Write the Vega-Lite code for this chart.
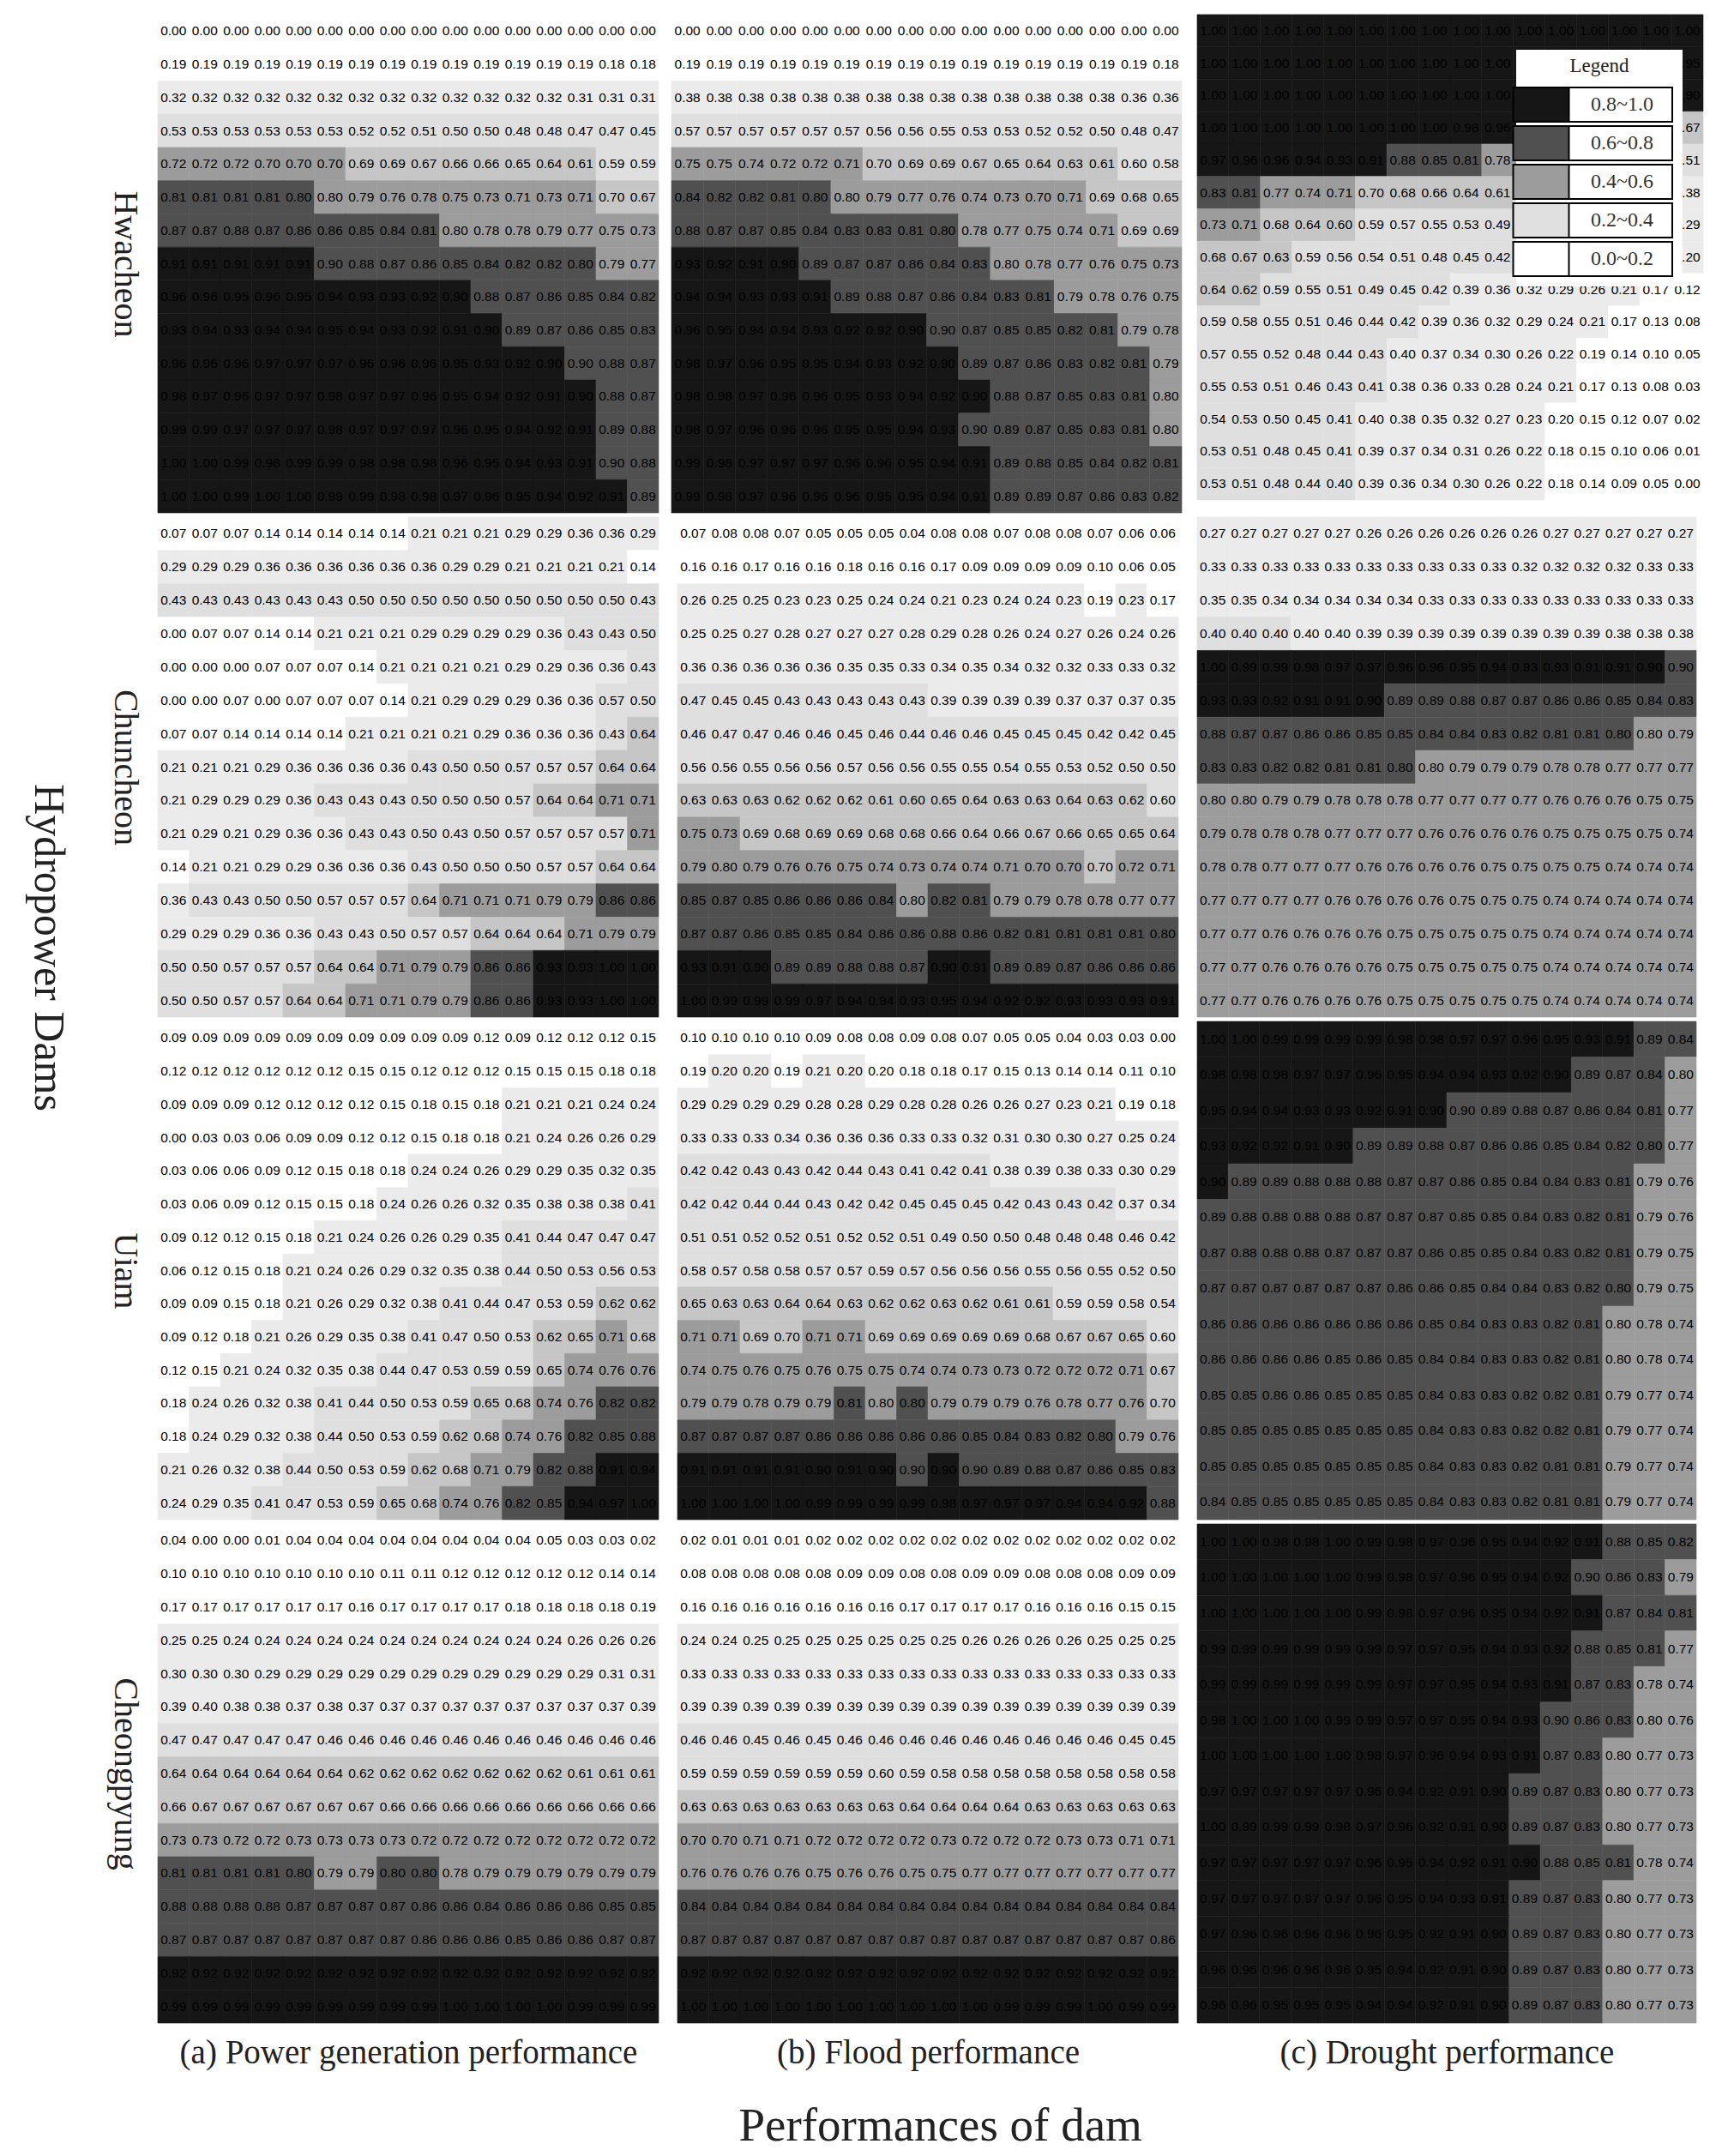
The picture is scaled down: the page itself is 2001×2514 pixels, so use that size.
{"$schema":"https://vega.github.io/schema/vega-lite/v6.json","background":"white","padding":{"left":30,"top":13,"right":0,"bottom":0},"config":{"view":{"stroke":null},"scale":{"bandPaddingInner":0,"bandPaddingOuter":0},"rect":{"strokeWidth":0.6},"text":{"font":"Liberation Sans","fontSize":15.5,"color":"#000"},"axis":{"labels":false,"ticks":false,"domain":false,"grid":false,"titleFont":"Liberation Serif","titleFontWeight":"normal","titleFontSize":39,"titleColor":"#222"},"axisY":{"titleAngle":90,"titleBaseline":"top","titlePadding":19,"titleFontSize":40},"axisX":{"titlePadding":15}},"title":{"text":"Hydropower Dams","orient":"left","anchor":"middle","angle":90,"font":"Liberation Serif","fontSize":50,"fontWeight":"normal","color":"#222","offset":94,"dy":-100,"dx":-155},"datasets":{"legendRows":[{"b":"0.8~1.0"},{"b":"0.6~0.8"},{"b":"0.4~0.6"},{"b":"0.2~0.4"},{"b":"0.0~0.2"}],
"a0":[{"r":0,"v":0},{"r":0,"v":0},{"r":0,"v":0},{"r":0,"v":0},{"r":0,"v":0},{"r":0,"v":0},{"r":0,"v":0},{"r":0,"v":0},{"r":0,"v":0},{"r":0,"v":0},{"r":0,"v":0},{"r":0,"v":0},{"r":0,"v":0},{"r":0,"v":0},{"r":0,"v":0},{"r":0,"v":0},
{"r":1,"v":0.19},{"r":1,"v":0.19},{"r":1,"v":0.19},{"r":1,"v":0.19},{"r":1,"v":0.19},{"r":1,"v":0.19},{"r":1,"v":0.19},{"r":1,"v":0.19},{"r":1,"v":0.19},{"r":1,"v":0.19},{"r":1,"v":0.19},{"r":1,"v":0.19},{"r":1,"v":0.19},{"r":1,"v":0.19},{"r":1,"v":0.18},{"r":1,"v":0.18},
{"r":2,"v":0.32},{"r":2,"v":0.32},{"r":2,"v":0.32},{"r":2,"v":0.32},{"r":2,"v":0.32},{"r":2,"v":0.32},{"r":2,"v":0.32},{"r":2,"v":0.32},{"r":2,"v":0.32},{"r":2,"v":0.32},{"r":2,"v":0.32},{"r":2,"v":0.32},{"r":2,"v":0.32},{"r":2,"v":0.31},{"r":2,"v":0.31},{"r":2,"v":0.31},
{"r":3,"v":0.53},{"r":3,"v":0.53},{"r":3,"v":0.53},{"r":3,"v":0.53},{"r":3,"v":0.53},{"r":3,"v":0.53},{"r":3,"v":0.52},{"r":3,"v":0.52},{"r":3,"v":0.51},{"r":3,"v":0.5},{"r":3,"v":0.5},{"r":3,"v":0.48},{"r":3,"v":0.48},{"r":3,"v":0.47},{"r":3,"v":0.47},{"r":3,"v":0.45},
{"r":4,"v":0.72},{"r":4,"v":0.72},{"r":4,"v":0.72},{"r":4,"v":0.7},{"r":4,"v":0.7},{"r":4,"v":0.7},{"r":4,"v":0.69},{"r":4,"v":0.69},{"r":4,"v":0.67},{"r":4,"v":0.66},{"r":4,"v":0.66},{"r":4,"v":0.65},{"r":4,"v":0.64},{"r":4,"v":0.61},{"r":4,"v":0.59},{"r":4,"v":0.59},
{"r":5,"v":0.81},{"r":5,"v":0.81},{"r":5,"v":0.81},{"r":5,"v":0.81},{"r":5,"v":0.8},{"r":5,"v":0.796},{"r":5,"v":0.79},{"r":5,"v":0.76},{"r":5,"v":0.78},{"r":5,"v":0.75},{"r":5,"v":0.73},{"r":5,"v":0.71},{"r":5,"v":0.73},{"r":5,"v":0.71},{"r":5,"v":0.696},{"r":5,"v":0.67},
{"r":6,"v":0.87},{"r":6,"v":0.87},{"r":6,"v":0.88},{"r":6,"v":0.87},{"r":6,"v":0.86},{"r":6,"v":0.86},{"r":6,"v":0.85},{"r":6,"v":0.84},{"r":6,"v":0.81},{"r":6,"v":0.796},{"r":6,"v":0.78},{"r":6,"v":0.78},{"r":6,"v":0.79},{"r":6,"v":0.77},{"r":6,"v":0.75},{"r":6,"v":0.73},
{"r":7,"v":0.91},{"r":7,"v":0.91},{"r":7,"v":0.91},{"r":7,"v":0.91},{"r":7,"v":0.91},{"r":7,"v":0.896},{"r":7,"v":0.88},{"r":7,"v":0.87},{"r":7,"v":0.86},{"r":7,"v":0.85},{"r":7,"v":0.84},{"r":7,"v":0.82},{"r":7,"v":0.82},{"r":7,"v":0.8},{"r":7,"v":0.79},{"r":7,"v":0.77},
{"r":8,"v":0.96},{"r":8,"v":0.96},{"r":8,"v":0.95},{"r":8,"v":0.96},{"r":8,"v":0.95},{"r":8,"v":0.94},{"r":8,"v":0.93},{"r":8,"v":0.93},{"r":8,"v":0.92},{"r":8,"v":0.9},{"r":8,"v":0.88},{"r":8,"v":0.87},{"r":8,"v":0.86},{"r":8,"v":0.85},{"r":8,"v":0.84},{"r":8,"v":0.82},
{"r":9,"v":0.93},{"r":9,"v":0.94},{"r":9,"v":0.93},{"r":9,"v":0.94},{"r":9,"v":0.94},{"r":9,"v":0.95},{"r":9,"v":0.94},{"r":9,"v":0.93},{"r":9,"v":0.92},{"r":9,"v":0.91},{"r":9,"v":0.9},{"r":9,"v":0.89},{"r":9,"v":0.87},{"r":9,"v":0.86},{"r":9,"v":0.85},{"r":9,"v":0.83},
{"r":10,"v":0.96},{"r":10,"v":0.96},{"r":10,"v":0.96},{"r":10,"v":0.97},{"r":10,"v":0.97},{"r":10,"v":0.97},{"r":10,"v":0.96},{"r":10,"v":0.96},{"r":10,"v":0.96},{"r":10,"v":0.95},{"r":10,"v":0.93},{"r":10,"v":0.92},{"r":10,"v":0.9},{"r":10,"v":0.896},{"r":10,"v":0.88},{"r":10,"v":0.87},
{"r":11,"v":0.98},{"r":11,"v":0.97},{"r":11,"v":0.96},{"r":11,"v":0.97},{"r":11,"v":0.97},{"r":11,"v":0.98},{"r":11,"v":0.97},{"r":11,"v":0.97},{"r":11,"v":0.96},{"r":11,"v":0.95},{"r":11,"v":0.94},{"r":11,"v":0.92},{"r":11,"v":0.91},{"r":11,"v":0.9},{"r":11,"v":0.88},{"r":11,"v":0.87},
{"r":12,"v":0.99},{"r":12,"v":0.99},{"r":12,"v":0.97},{"r":12,"v":0.97},{"r":12,"v":0.97},{"r":12,"v":0.98},{"r":12,"v":0.97},{"r":12,"v":0.97},{"r":12,"v":0.97},{"r":12,"v":0.96},{"r":12,"v":0.95},{"r":12,"v":0.94},{"r":12,"v":0.92},{"r":12,"v":0.91},{"r":12,"v":0.89},{"r":12,"v":0.88},
{"r":13,"v":1},{"r":13,"v":1},{"r":13,"v":0.99},{"r":13,"v":0.98},{"r":13,"v":0.99},{"r":13,"v":0.99},{"r":13,"v":0.98},{"r":13,"v":0.98},{"r":13,"v":0.98},{"r":13,"v":0.96},{"r":13,"v":0.95},{"r":13,"v":0.94},{"r":13,"v":0.93},{"r":13,"v":0.91},{"r":13,"v":0.896},{"r":13,"v":0.88},
{"r":14,"v":1},{"r":14,"v":1},{"r":14,"v":0.99},{"r":14,"v":1},{"r":14,"v":1},{"r":14,"v":0.99},{"r":14,"v":0.99},{"r":14,"v":0.98},{"r":14,"v":0.98},{"r":14,"v":0.97},{"r":14,"v":0.96},{"r":14,"v":0.95},{"r":14,"v":0.94},{"r":14,"v":0.92},{"r":14,"v":0.91},{"r":14,"v":0.89}],
"b0":[{"r":0,"v":0},{"r":0,"v":0},{"r":0,"v":0},{"r":0,"v":0},{"r":0,"v":0},{"r":0,"v":0},{"r":0,"v":0},{"r":0,"v":0},{"r":0,"v":0},{"r":0,"v":0},{"r":0,"v":0},{"r":0,"v":0},{"r":0,"v":0},{"r":0,"v":0},{"r":0,"v":0},{"r":0,"v":0},
{"r":1,"v":0.19},{"r":1,"v":0.19},{"r":1,"v":0.19},{"r":1,"v":0.19},{"r":1,"v":0.19},{"r":1,"v":0.19},{"r":1,"v":0.19},{"r":1,"v":0.19},{"r":1,"v":0.19},{"r":1,"v":0.19},{"r":1,"v":0.19},{"r":1,"v":0.19},{"r":1,"v":0.19},{"r":1,"v":0.19},{"r":1,"v":0.19},{"r":1,"v":0.18},
{"r":2,"v":0.38},{"r":2,"v":0.38},{"r":2,"v":0.38},{"r":2,"v":0.38},{"r":2,"v":0.38},{"r":2,"v":0.38},{"r":2,"v":0.38},{"r":2,"v":0.38},{"r":2,"v":0.38},{"r":2,"v":0.38},{"r":2,"v":0.38},{"r":2,"v":0.38},{"r":2,"v":0.38},{"r":2,"v":0.38},{"r":2,"v":0.36},{"r":2,"v":0.36},
{"r":3,"v":0.57},{"r":3,"v":0.57},{"r":3,"v":0.57},{"r":3,"v":0.57},{"r":3,"v":0.57},{"r":3,"v":0.57},{"r":3,"v":0.56},{"r":3,"v":0.56},{"r":3,"v":0.55},{"r":3,"v":0.53},{"r":3,"v":0.53},{"r":3,"v":0.52},{"r":3,"v":0.52},{"r":3,"v":0.5},{"r":3,"v":0.48},{"r":3,"v":0.47},
{"r":4,"v":0.75},{"r":4,"v":0.75},{"r":4,"v":0.74},{"r":4,"v":0.72},{"r":4,"v":0.72},{"r":4,"v":0.71},{"r":4,"v":0.696},{"r":4,"v":0.69},{"r":4,"v":0.69},{"r":4,"v":0.67},{"r":4,"v":0.65},{"r":4,"v":0.64},{"r":4,"v":0.63},{"r":4,"v":0.61},{"r":4,"v":0.596},{"r":4,"v":0.58},
{"r":5,"v":0.84},{"r":5,"v":0.82},{"r":5,"v":0.82},{"r":5,"v":0.81},{"r":5,"v":0.8},{"r":5,"v":0.796},{"r":5,"v":0.79},{"r":5,"v":0.77},{"r":5,"v":0.76},{"r":5,"v":0.74},{"r":5,"v":0.73},{"r":5,"v":0.7},{"r":5,"v":0.71},{"r":5,"v":0.69},{"r":5,"v":0.68},{"r":5,"v":0.65},
{"r":6,"v":0.88},{"r":6,"v":0.87},{"r":6,"v":0.87},{"r":6,"v":0.85},{"r":6,"v":0.84},{"r":6,"v":0.83},{"r":6,"v":0.83},{"r":6,"v":0.81},{"r":6,"v":0.8},{"r":6,"v":0.78},{"r":6,"v":0.77},{"r":6,"v":0.75},{"r":6,"v":0.74},{"r":6,"v":0.71},{"r":6,"v":0.69},{"r":6,"v":0.69},
{"r":7,"v":0.93},{"r":7,"v":0.92},{"r":7,"v":0.91},{"r":7,"v":0.9},{"r":7,"v":0.89},{"r":7,"v":0.87},{"r":7,"v":0.87},{"r":7,"v":0.86},{"r":7,"v":0.84},{"r":7,"v":0.83},{"r":7,"v":0.796},{"r":7,"v":0.78},{"r":7,"v":0.77},{"r":7,"v":0.76},{"r":7,"v":0.75},{"r":7,"v":0.73},
{"r":8,"v":0.94},{"r":8,"v":0.94},{"r":8,"v":0.93},{"r":8,"v":0.93},{"r":8,"v":0.91},{"r":8,"v":0.89},{"r":8,"v":0.88},{"r":8,"v":0.87},{"r":8,"v":0.86},{"r":8,"v":0.84},{"r":8,"v":0.83},{"r":8,"v":0.81},{"r":8,"v":0.79},{"r":8,"v":0.78},{"r":8,"v":0.76},{"r":8,"v":0.75},
{"r":9,"v":0.96},{"r":9,"v":0.95},{"r":9,"v":0.94},{"r":9,"v":0.94},{"r":9,"v":0.93},{"r":9,"v":0.92},{"r":9,"v":0.92},{"r":9,"v":0.9},{"r":9,"v":0.896},{"r":9,"v":0.87},{"r":9,"v":0.85},{"r":9,"v":0.85},{"r":9,"v":0.82},{"r":9,"v":0.81},{"r":9,"v":0.79},{"r":9,"v":0.78},
{"r":10,"v":0.98},{"r":10,"v":0.97},{"r":10,"v":0.96},{"r":10,"v":0.95},{"r":10,"v":0.95},{"r":10,"v":0.94},{"r":10,"v":0.93},{"r":10,"v":0.92},{"r":10,"v":0.9},{"r":10,"v":0.89},{"r":10,"v":0.87},{"r":10,"v":0.86},{"r":10,"v":0.83},{"r":10,"v":0.82},{"r":10,"v":0.81},{"r":10,"v":0.79},
{"r":11,"v":0.98},{"r":11,"v":0.98},{"r":11,"v":0.97},{"r":11,"v":0.96},{"r":11,"v":0.96},{"r":11,"v":0.95},{"r":11,"v":0.93},{"r":11,"v":0.94},{"r":11,"v":0.92},{"r":11,"v":0.9},{"r":11,"v":0.88},{"r":11,"v":0.87},{"r":11,"v":0.85},{"r":11,"v":0.83},{"r":11,"v":0.81},{"r":11,"v":0.796},
{"r":12,"v":0.98},{"r":12,"v":0.97},{"r":12,"v":0.96},{"r":12,"v":0.96},{"r":12,"v":0.96},{"r":12,"v":0.95},{"r":12,"v":0.95},{"r":12,"v":0.94},{"r":12,"v":0.93},{"r":12,"v":0.896},{"r":12,"v":0.89},{"r":12,"v":0.87},{"r":12,"v":0.85},{"r":12,"v":0.83},{"r":12,"v":0.81},{"r":12,"v":0.796},
{"r":13,"v":0.99},{"r":13,"v":0.98},{"r":13,"v":0.97},{"r":13,"v":0.97},{"r":13,"v":0.97},{"r":13,"v":0.96},{"r":13,"v":0.96},{"r":13,"v":0.95},{"r":13,"v":0.94},{"r":13,"v":0.91},{"r":13,"v":0.89},{"r":13,"v":0.88},{"r":13,"v":0.85},{"r":13,"v":0.84},{"r":13,"v":0.82},{"r":13,"v":0.81},
{"r":14,"v":0.99},{"r":14,"v":0.98},{"r":14,"v":0.97},{"r":14,"v":0.96},{"r":14,"v":0.96},{"r":14,"v":0.96},{"r":14,"v":0.95},{"r":14,"v":0.95},{"r":14,"v":0.94},{"r":14,"v":0.91},{"r":14,"v":0.89},{"r":14,"v":0.89},{"r":14,"v":0.87},{"r":14,"v":0.86},{"r":14,"v":0.83},{"r":14,"v":0.82}],
"c0":[{"r":0,"v":1},{"r":0,"v":1},{"r":0,"v":1},{"r":0,"v":1},{"r":0,"v":1},{"r":0,"v":1},{"r":0,"v":1},{"r":0,"v":1},{"r":0,"v":1},{"r":0,"v":1},{"r":0,"v":1},{"r":0,"v":1},{"r":0,"v":1},{"r":0,"v":1},{"r":0,"v":1},{"r":0,"v":1},
{"r":1,"v":1},{"r":1,"v":1},{"r":1,"v":1},{"r":1,"v":1},{"r":1,"v":1},{"r":1,"v":1},{"r":1,"v":1},{"r":1,"v":1},{"r":1,"v":1},{"r":1,"v":1},{"r":1,"v":0.99},{"r":1,"v":0.99},{"r":1,"v":0.98},{"r":1,"v":0.97},{"r":1,"v":0.96},{"r":1,"v":0.95},
{"r":2,"v":1},{"r":2,"v":1},{"r":2,"v":1},{"r":2,"v":1},{"r":2,"v":1},{"r":2,"v":1},{"r":2,"v":1},{"r":2,"v":1},{"r":2,"v":1},{"r":2,"v":1},{"r":2,"v":0.99},{"r":2,"v":0.98},{"r":2,"v":0.96},{"r":2,"v":0.94},{"r":2,"v":0.92},{"r":2,"v":0.9},
{"r":3,"v":1},{"r":3,"v":1},{"r":3,"v":1},{"r":3,"v":1},{"r":3,"v":1},{"r":3,"v":1},{"r":3,"v":1},{"r":3,"v":1},{"r":3,"v":0.98},{"r":3,"v":0.96},{"r":3,"v":0.93},{"r":3,"v":0.89},{"r":3,"v":0.85},{"r":3,"v":0.8},{"r":3,"v":0.74},{"r":3,"v":0.67},
{"r":4,"v":0.97},{"r":4,"v":0.96},{"r":4,"v":0.96},{"r":4,"v":0.94},{"r":4,"v":0.93},{"r":4,"v":0.91},{"r":4,"v":0.88},{"r":4,"v":0.85},{"r":4,"v":0.81},{"r":4,"v":0.78},{"r":4,"v":0.74},{"r":4,"v":0.7},{"r":4,"v":0.65},{"r":4,"v":0.6},{"r":4,"v":0.57},{"r":4,"v":0.51},
{"r":5,"v":0.83},{"r":5,"v":0.81},{"r":5,"v":0.77},{"r":5,"v":0.74},{"r":5,"v":0.71},{"r":5,"v":0.696},{"r":5,"v":0.68},{"r":5,"v":0.66},{"r":5,"v":0.64},{"r":5,"v":0.61},{"r":5,"v":0.58},{"r":5,"v":0.55},{"r":5,"v":0.51},{"r":5,"v":0.47},{"r":5,"v":0.43},{"r":5,"v":0.38},
{"r":6,"v":0.73},{"r":6,"v":0.71},{"r":6,"v":0.68},{"r":6,"v":0.64},{"r":6,"v":0.6},{"r":6,"v":0.59},{"r":6,"v":0.57},{"r":6,"v":0.55},{"r":6,"v":0.53},{"r":6,"v":0.49},{"r":6,"v":0.46},{"r":6,"v":0.43},{"r":6,"v":0.39},{"r":6,"v":0.35},{"r":6,"v":0.31},{"r":6,"v":0.29},
{"r":7,"v":0.68},{"r":7,"v":0.67},{"r":7,"v":0.63},{"r":7,"v":0.59},{"r":7,"v":0.56},{"r":7,"v":0.54},{"r":7,"v":0.51},{"r":7,"v":0.48},{"r":7,"v":0.45},{"r":7,"v":0.42},{"r":7,"v":0.38},{"r":7,"v":0.35},{"r":7,"v":0.31},{"r":7,"v":0.27},{"r":7,"v":0.24},{"r":7,"v":0.2},
{"r":8,"v":0.64},{"r":8,"v":0.62},{"r":8,"v":0.59},{"r":8,"v":0.55},{"r":8,"v":0.51},{"r":8,"v":0.49},{"r":8,"v":0.45},{"r":8,"v":0.42},{"r":8,"v":0.39},{"r":8,"v":0.36},{"r":8,"v":0.32},{"r":8,"v":0.29},{"r":8,"v":0.26},{"r":8,"v":0.21},{"r":8,"v":0.17},{"r":8,"v":0.12},
{"r":9,"v":0.59},{"r":9,"v":0.58},{"r":9,"v":0.55},{"r":9,"v":0.51},{"r":9,"v":0.46},{"r":9,"v":0.44},{"r":9,"v":0.42},{"r":9,"v":0.39},{"r":9,"v":0.36},{"r":9,"v":0.32},{"r":9,"v":0.29},{"r":9,"v":0.24},{"r":9,"v":0.21},{"r":9,"v":0.17},{"r":9,"v":0.13},{"r":9,"v":0.08},
{"r":10,"v":0.57},{"r":10,"v":0.55},{"r":10,"v":0.52},{"r":10,"v":0.48},{"r":10,"v":0.44},{"r":10,"v":0.43},{"r":10,"v":0.396},{"r":10,"v":0.37},{"r":10,"v":0.34},{"r":10,"v":0.3},{"r":10,"v":0.26},{"r":10,"v":0.22},{"r":10,"v":0.19},{"r":10,"v":0.14},{"r":10,"v":0.1},{"r":10,"v":0.05},
{"r":11,"v":0.55},{"r":11,"v":0.53},{"r":11,"v":0.51},{"r":11,"v":0.46},{"r":11,"v":0.43},{"r":11,"v":0.41},{"r":11,"v":0.38},{"r":11,"v":0.36},{"r":11,"v":0.33},{"r":11,"v":0.28},{"r":11,"v":0.24},{"r":11,"v":0.21},{"r":11,"v":0.17},{"r":11,"v":0.13},{"r":11,"v":0.08},{"r":11,"v":0.03},
{"r":12,"v":0.54},{"r":12,"v":0.53},{"r":12,"v":0.5},{"r":12,"v":0.45},{"r":12,"v":0.41},{"r":12,"v":0.396},{"r":12,"v":0.38},{"r":12,"v":0.35},{"r":12,"v":0.32},{"r":12,"v":0.27},{"r":12,"v":0.23},{"r":12,"v":0.196},{"r":12,"v":0.15},{"r":12,"v":0.12},{"r":12,"v":0.07},{"r":12,"v":0.02},
{"r":13,"v":0.53},{"r":13,"v":0.51},{"r":13,"v":0.48},{"r":13,"v":0.45},{"r":13,"v":0.41},{"r":13,"v":0.39},{"r":13,"v":0.37},{"r":13,"v":0.34},{"r":13,"v":0.31},{"r":13,"v":0.26},{"r":13,"v":0.22},{"r":13,"v":0.18},{"r":13,"v":0.15},{"r":13,"v":0.1},{"r":13,"v":0.06},{"r":13,"v":0.01},
{"r":14,"v":0.53},{"r":14,"v":0.51},{"r":14,"v":0.48},{"r":14,"v":0.44},{"r":14,"v":0.4},{"r":14,"v":0.39},{"r":14,"v":0.36},{"r":14,"v":0.34},{"r":14,"v":0.3},{"r":14,"v":0.26},{"r":14,"v":0.22},{"r":14,"v":0.18},{"r":14,"v":0.14},{"r":14,"v":0.09},{"r":14,"v":0.05},{"r":14,"v":0}],
"a1":[{"r":0,"v":0.07},{"r":0,"v":0.07},{"r":0,"v":0.07},{"r":0,"v":0.14},{"r":0,"v":0.14},{"r":0,"v":0.14},{"r":0,"v":0.14},{"r":0,"v":0.14},{"r":0,"v":0.21},{"r":0,"v":0.21},{"r":0,"v":0.21},{"r":0,"v":0.29},{"r":0,"v":0.29},{"r":0,"v":0.36},{"r":0,"v":0.36},{"r":0,"v":0.29},
{"r":1,"v":0.29},{"r":1,"v":0.29},{"r":1,"v":0.29},{"r":1,"v":0.36},{"r":1,"v":0.36},{"r":1,"v":0.36},{"r":1,"v":0.36},{"r":1,"v":0.36},{"r":1,"v":0.36},{"r":1,"v":0.29},{"r":1,"v":0.29},{"r":1,"v":0.21},{"r":1,"v":0.21},{"r":1,"v":0.21},{"r":1,"v":0.21},{"r":1,"v":0.14},
{"r":2,"v":0.43},{"r":2,"v":0.43},{"r":2,"v":0.43},{"r":2,"v":0.43},{"r":2,"v":0.43},{"r":2,"v":0.43},{"r":2,"v":0.5},{"r":2,"v":0.5},{"r":2,"v":0.5},{"r":2,"v":0.5},{"r":2,"v":0.5},{"r":2,"v":0.5},{"r":2,"v":0.5},{"r":2,"v":0.5},{"r":2,"v":0.5},{"r":2,"v":0.43},
{"r":3,"v":0},{"r":3,"v":0.07},{"r":3,"v":0.07},{"r":3,"v":0.14},{"r":3,"v":0.14},{"r":3,"v":0.21},{"r":3,"v":0.21},{"r":3,"v":0.21},{"r":3,"v":0.29},{"r":3,"v":0.29},{"r":3,"v":0.29},{"r":3,"v":0.29},{"r":3,"v":0.36},{"r":3,"v":0.43},{"r":3,"v":0.43},{"r":3,"v":0.5},
{"r":4,"v":0},{"r":4,"v":0},{"r":4,"v":0},{"r":4,"v":0.07},{"r":4,"v":0.07},{"r":4,"v":0.07},{"r":4,"v":0.14},{"r":4,"v":0.21},{"r":4,"v":0.21},{"r":4,"v":0.21},{"r":4,"v":0.21},{"r":4,"v":0.29},{"r":4,"v":0.29},{"r":4,"v":0.36},{"r":4,"v":0.36},{"r":4,"v":0.43},
{"r":5,"v":0},{"r":5,"v":0},{"r":5,"v":0.07},{"r":5,"v":0},{"r":5,"v":0.07},{"r":5,"v":0.07},{"r":5,"v":0.07},{"r":5,"v":0.14},{"r":5,"v":0.21},{"r":5,"v":0.29},{"r":5,"v":0.29},{"r":5,"v":0.29},{"r":5,"v":0.36},{"r":5,"v":0.36},{"r":5,"v":0.57},{"r":5,"v":0.5},
{"r":6,"v":0.07},{"r":6,"v":0.07},{"r":6,"v":0.14},{"r":6,"v":0.14},{"r":6,"v":0.14},{"r":6,"v":0.14},{"r":6,"v":0.21},{"r":6,"v":0.21},{"r":6,"v":0.21},{"r":6,"v":0.21},{"r":6,"v":0.29},{"r":6,"v":0.36},{"r":6,"v":0.36},{"r":6,"v":0.36},{"r":6,"v":0.43},{"r":6,"v":0.64},
{"r":7,"v":0.21},{"r":7,"v":0.21},{"r":7,"v":0.21},{"r":7,"v":0.29},{"r":7,"v":0.36},{"r":7,"v":0.36},{"r":7,"v":0.36},{"r":7,"v":0.36},{"r":7,"v":0.43},{"r":7,"v":0.5},{"r":7,"v":0.5},{"r":7,"v":0.57},{"r":7,"v":0.57},{"r":7,"v":0.57},{"r":7,"v":0.64},{"r":7,"v":0.64},
{"r":8,"v":0.21},{"r":8,"v":0.29},{"r":8,"v":0.29},{"r":8,"v":0.29},{"r":8,"v":0.36},{"r":8,"v":0.43},{"r":8,"v":0.43},{"r":8,"v":0.43},{"r":8,"v":0.5},{"r":8,"v":0.5},{"r":8,"v":0.5},{"r":8,"v":0.57},{"r":8,"v":0.64},{"r":8,"v":0.64},{"r":8,"v":0.71},{"r":8,"v":0.71},
{"r":9,"v":0.21},{"r":9,"v":0.29},{"r":9,"v":0.21},{"r":9,"v":0.29},{"r":9,"v":0.36},{"r":9,"v":0.36},{"r":9,"v":0.43},{"r":9,"v":0.43},{"r":9,"v":0.5},{"r":9,"v":0.43},{"r":9,"v":0.5},{"r":9,"v":0.57},{"r":9,"v":0.57},{"r":9,"v":0.57},{"r":9,"v":0.57},{"r":9,"v":0.71},
{"r":10,"v":0.14},{"r":10,"v":0.21},{"r":10,"v":0.21},{"r":10,"v":0.29},{"r":10,"v":0.29},{"r":10,"v":0.36},{"r":10,"v":0.36},{"r":10,"v":0.36},{"r":10,"v":0.43},{"r":10,"v":0.5},{"r":10,"v":0.5},{"r":10,"v":0.5},{"r":10,"v":0.57},{"r":10,"v":0.57},{"r":10,"v":0.64},{"r":10,"v":0.64},
{"r":11,"v":0.36},{"r":11,"v":0.43},{"r":11,"v":0.43},{"r":11,"v":0.5},{"r":11,"v":0.5},{"r":11,"v":0.57},{"r":11,"v":0.57},{"r":11,"v":0.57},{"r":11,"v":0.64},{"r":11,"v":0.71},{"r":11,"v":0.71},{"r":11,"v":0.71},{"r":11,"v":0.79},{"r":11,"v":0.79},{"r":11,"v":0.86},{"r":11,"v":0.86},
{"r":12,"v":0.29},{"r":12,"v":0.29},{"r":12,"v":0.29},{"r":12,"v":0.36},{"r":12,"v":0.36},{"r":12,"v":0.43},{"r":12,"v":0.43},{"r":12,"v":0.5},{"r":12,"v":0.57},{"r":12,"v":0.57},{"r":12,"v":0.64},{"r":12,"v":0.64},{"r":12,"v":0.64},{"r":12,"v":0.71},{"r":12,"v":0.79},{"r":12,"v":0.79},
{"r":13,"v":0.5},{"r":13,"v":0.5},{"r":13,"v":0.57},{"r":13,"v":0.57},{"r":13,"v":0.57},{"r":13,"v":0.64},{"r":13,"v":0.64},{"r":13,"v":0.71},{"r":13,"v":0.79},{"r":13,"v":0.79},{"r":13,"v":0.86},{"r":13,"v":0.86},{"r":13,"v":0.93},{"r":13,"v":0.93},{"r":13,"v":1},{"r":13,"v":1},
{"r":14,"v":0.5},{"r":14,"v":0.5},{"r":14,"v":0.57},{"r":14,"v":0.57},{"r":14,"v":0.64},{"r":14,"v":0.64},{"r":14,"v":0.71},{"r":14,"v":0.71},{"r":14,"v":0.79},{"r":14,"v":0.79},{"r":14,"v":0.86},{"r":14,"v":0.86},{"r":14,"v":0.93},{"r":14,"v":0.93},{"r":14,"v":1},{"r":14,"v":1}],
"b1":[{"r":0,"v":0.07},{"r":0,"v":0.08},{"r":0,"v":0.08},{"r":0,"v":0.07},{"r":0,"v":0.05},{"r":0,"v":0.05},{"r":0,"v":0.05},{"r":0,"v":0.04},{"r":0,"v":0.08},{"r":0,"v":0.08},{"r":0,"v":0.07},{"r":0,"v":0.08},{"r":0,"v":0.08},{"r":0,"v":0.07},{"r":0,"v":0.06},{"r":0,"v":0.06},
{"r":1,"v":0.16},{"r":1,"v":0.16},{"r":1,"v":0.17},{"r":1,"v":0.16},{"r":1,"v":0.16},{"r":1,"v":0.18},{"r":1,"v":0.16},{"r":1,"v":0.16},{"r":1,"v":0.17},{"r":1,"v":0.09},{"r":1,"v":0.09},{"r":1,"v":0.09},{"r":1,"v":0.09},{"r":1,"v":0.1},{"r":1,"v":0.06},{"r":1,"v":0.05},
{"r":2,"v":0.26},{"r":2,"v":0.25},{"r":2,"v":0.25},{"r":2,"v":0.23},{"r":2,"v":0.23},{"r":2,"v":0.25},{"r":2,"v":0.24},{"r":2,"v":0.24},{"r":2,"v":0.21},{"r":2,"v":0.23},{"r":2,"v":0.24},{"r":2,"v":0.24},{"r":2,"v":0.23},{"r":2,"v":0.19},{"r":2,"v":0.23},{"r":2,"v":0.17},
{"r":3,"v":0.25},{"r":3,"v":0.25},{"r":3,"v":0.27},{"r":3,"v":0.28},{"r":3,"v":0.27},{"r":3,"v":0.27},{"r":3,"v":0.27},{"r":3,"v":0.28},{"r":3,"v":0.29},{"r":3,"v":0.28},{"r":3,"v":0.26},{"r":3,"v":0.24},{"r":3,"v":0.27},{"r":3,"v":0.26},{"r":3,"v":0.24},{"r":3,"v":0.26},
{"r":4,"v":0.36},{"r":4,"v":0.36},{"r":4,"v":0.36},{"r":4,"v":0.36},{"r":4,"v":0.36},{"r":4,"v":0.35},{"r":4,"v":0.35},{"r":4,"v":0.33},{"r":4,"v":0.34},{"r":4,"v":0.35},{"r":4,"v":0.34},{"r":4,"v":0.32},{"r":4,"v":0.32},{"r":4,"v":0.33},{"r":4,"v":0.33},{"r":4,"v":0.32},
{"r":5,"v":0.47},{"r":5,"v":0.45},{"r":5,"v":0.45},{"r":5,"v":0.43},{"r":5,"v":0.43},{"r":5,"v":0.43},{"r":5,"v":0.43},{"r":5,"v":0.43},{"r":5,"v":0.39},{"r":5,"v":0.39},{"r":5,"v":0.39},{"r":5,"v":0.39},{"r":5,"v":0.37},{"r":5,"v":0.37},{"r":5,"v":0.37},{"r":5,"v":0.35},
{"r":6,"v":0.46},{"r":6,"v":0.47},{"r":6,"v":0.47},{"r":6,"v":0.46},{"r":6,"v":0.46},{"r":6,"v":0.45},{"r":6,"v":0.46},{"r":6,"v":0.44},{"r":6,"v":0.46},{"r":6,"v":0.46},{"r":6,"v":0.45},{"r":6,"v":0.45},{"r":6,"v":0.45},{"r":6,"v":0.42},{"r":6,"v":0.42},{"r":6,"v":0.45},
{"r":7,"v":0.56},{"r":7,"v":0.56},{"r":7,"v":0.55},{"r":7,"v":0.56},{"r":7,"v":0.56},{"r":7,"v":0.57},{"r":7,"v":0.56},{"r":7,"v":0.56},{"r":7,"v":0.55},{"r":7,"v":0.55},{"r":7,"v":0.54},{"r":7,"v":0.55},{"r":7,"v":0.53},{"r":7,"v":0.52},{"r":7,"v":0.5},{"r":7,"v":0.5},
{"r":8,"v":0.63},{"r":8,"v":0.63},{"r":8,"v":0.63},{"r":8,"v":0.62},{"r":8,"v":0.62},{"r":8,"v":0.62},{"r":8,"v":0.61},{"r":8,"v":0.6},{"r":8,"v":0.65},{"r":8,"v":0.64},{"r":8,"v":0.63},{"r":8,"v":0.63},{"r":8,"v":0.64},{"r":8,"v":0.63},{"r":8,"v":0.62},{"r":8,"v":0.596},
{"r":9,"v":0.75},{"r":9,"v":0.73},{"r":9,"v":0.69},{"r":9,"v":0.68},{"r":9,"v":0.69},{"r":9,"v":0.69},{"r":9,"v":0.68},{"r":9,"v":0.68},{"r":9,"v":0.66},{"r":9,"v":0.64},{"r":9,"v":0.66},{"r":9,"v":0.67},{"r":9,"v":0.66},{"r":9,"v":0.65},{"r":9,"v":0.65},{"r":9,"v":0.64},
{"r":10,"v":0.79},{"r":10,"v":0.796},{"r":10,"v":0.79},{"r":10,"v":0.76},{"r":10,"v":0.76},{"r":10,"v":0.75},{"r":10,"v":0.74},{"r":10,"v":0.73},{"r":10,"v":0.74},{"r":10,"v":0.74},{"r":10,"v":0.71},{"r":10,"v":0.7},{"r":10,"v":0.7},{"r":10,"v":0.696},{"r":10,"v":0.72},{"r":10,"v":0.71},
{"r":11,"v":0.85},{"r":11,"v":0.87},{"r":11,"v":0.85},{"r":11,"v":0.86},{"r":11,"v":0.86},{"r":11,"v":0.86},{"r":11,"v":0.84},{"r":11,"v":0.796},{"r":11,"v":0.82},{"r":11,"v":0.81},{"r":11,"v":0.79},{"r":11,"v":0.79},{"r":11,"v":0.78},{"r":11,"v":0.78},{"r":11,"v":0.77},{"r":11,"v":0.77},
{"r":12,"v":0.87},{"r":12,"v":0.87},{"r":12,"v":0.86},{"r":12,"v":0.85},{"r":12,"v":0.85},{"r":12,"v":0.84},{"r":12,"v":0.86},{"r":12,"v":0.86},{"r":12,"v":0.88},{"r":12,"v":0.86},{"r":12,"v":0.82},{"r":12,"v":0.81},{"r":12,"v":0.81},{"r":12,"v":0.81},{"r":12,"v":0.81},{"r":12,"v":0.8},
{"r":13,"v":0.93},{"r":13,"v":0.91},{"r":13,"v":0.9},{"r":13,"v":0.89},{"r":13,"v":0.89},{"r":13,"v":0.88},{"r":13,"v":0.88},{"r":13,"v":0.87},{"r":13,"v":0.9},{"r":13,"v":0.91},{"r":13,"v":0.89},{"r":13,"v":0.89},{"r":13,"v":0.87},{"r":13,"v":0.86},{"r":13,"v":0.86},{"r":13,"v":0.86},
{"r":14,"v":1},{"r":14,"v":0.99},{"r":14,"v":0.99},{"r":14,"v":0.99},{"r":14,"v":0.97},{"r":14,"v":0.94},{"r":14,"v":0.94},{"r":14,"v":0.93},{"r":14,"v":0.95},{"r":14,"v":0.94},{"r":14,"v":0.92},{"r":14,"v":0.92},{"r":14,"v":0.93},{"r":14,"v":0.93},{"r":14,"v":0.93},{"r":14,"v":0.91}],
"c1":[{"r":0,"v":0.27},{"r":0,"v":0.27},{"r":0,"v":0.27},{"r":0,"v":0.27},{"r":0,"v":0.27},{"r":0,"v":0.26},{"r":0,"v":0.26},{"r":0,"v":0.26},{"r":0,"v":0.26},{"r":0,"v":0.26},{"r":0,"v":0.26},{"r":0,"v":0.27},{"r":0,"v":0.27},{"r":0,"v":0.27},{"r":0,"v":0.27},{"r":0,"v":0.27},
{"r":1,"v":0.33},{"r":1,"v":0.33},{"r":1,"v":0.33},{"r":1,"v":0.33},{"r":1,"v":0.33},{"r":1,"v":0.33},{"r":1,"v":0.33},{"r":1,"v":0.33},{"r":1,"v":0.33},{"r":1,"v":0.33},{"r":1,"v":0.32},{"r":1,"v":0.32},{"r":1,"v":0.32},{"r":1,"v":0.32},{"r":1,"v":0.33},{"r":1,"v":0.33},
{"r":2,"v":0.35},{"r":2,"v":0.35},{"r":2,"v":0.34},{"r":2,"v":0.34},{"r":2,"v":0.34},{"r":2,"v":0.34},{"r":2,"v":0.34},{"r":2,"v":0.33},{"r":2,"v":0.33},{"r":2,"v":0.33},{"r":2,"v":0.33},{"r":2,"v":0.33},{"r":2,"v":0.33},{"r":2,"v":0.33},{"r":2,"v":0.33},{"r":2,"v":0.33},
{"r":3,"v":0.4},{"r":3,"v":0.4},{"r":3,"v":0.4},{"r":3,"v":0.396},{"r":3,"v":0.396},{"r":3,"v":0.39},{"r":3,"v":0.39},{"r":3,"v":0.39},{"r":3,"v":0.39},{"r":3,"v":0.39},{"r":3,"v":0.39},{"r":3,"v":0.39},{"r":3,"v":0.39},{"r":3,"v":0.38},{"r":3,"v":0.38},{"r":3,"v":0.38},
{"r":4,"v":1},{"r":4,"v":0.99},{"r":4,"v":0.99},{"r":4,"v":0.98},{"r":4,"v":0.97},{"r":4,"v":0.97},{"r":4,"v":0.96},{"r":4,"v":0.96},{"r":4,"v":0.95},{"r":4,"v":0.94},{"r":4,"v":0.93},{"r":4,"v":0.93},{"r":4,"v":0.91},{"r":4,"v":0.91},{"r":4,"v":0.9},{"r":4,"v":0.896},
{"r":5,"v":0.93},{"r":5,"v":0.93},{"r":5,"v":0.92},{"r":5,"v":0.91},{"r":5,"v":0.91},{"r":5,"v":0.9},{"r":5,"v":0.89},{"r":5,"v":0.89},{"r":5,"v":0.88},{"r":5,"v":0.87},{"r":5,"v":0.87},{"r":5,"v":0.86},{"r":5,"v":0.86},{"r":5,"v":0.85},{"r":5,"v":0.84},{"r":5,"v":0.83},
{"r":6,"v":0.88},{"r":6,"v":0.87},{"r":6,"v":0.87},{"r":6,"v":0.86},{"r":6,"v":0.86},{"r":6,"v":0.85},{"r":6,"v":0.85},{"r":6,"v":0.84},{"r":6,"v":0.84},{"r":6,"v":0.83},{"r":6,"v":0.82},{"r":6,"v":0.81},{"r":6,"v":0.81},{"r":6,"v":0.8},{"r":6,"v":0.796},{"r":6,"v":0.79},
{"r":7,"v":0.83},{"r":7,"v":0.83},{"r":7,"v":0.82},{"r":7,"v":0.82},{"r":7,"v":0.81},{"r":7,"v":0.81},{"r":7,"v":0.8},{"r":7,"v":0.796},{"r":7,"v":0.79},{"r":7,"v":0.79},{"r":7,"v":0.79},{"r":7,"v":0.78},{"r":7,"v":0.78},{"r":7,"v":0.77},{"r":7,"v":0.77},{"r":7,"v":0.77},
{"r":8,"v":0.796},{"r":8,"v":0.796},{"r":8,"v":0.79},{"r":8,"v":0.79},{"r":8,"v":0.78},{"r":8,"v":0.78},{"r":8,"v":0.78},{"r":8,"v":0.77},{"r":8,"v":0.77},{"r":8,"v":0.77},{"r":8,"v":0.77},{"r":8,"v":0.76},{"r":8,"v":0.76},{"r":8,"v":0.76},{"r":8,"v":0.75},{"r":8,"v":0.75},
{"r":9,"v":0.79},{"r":9,"v":0.78},{"r":9,"v":0.78},{"r":9,"v":0.78},{"r":9,"v":0.77},{"r":9,"v":0.77},{"r":9,"v":0.77},{"r":9,"v":0.76},{"r":9,"v":0.76},{"r":9,"v":0.76},{"r":9,"v":0.76},{"r":9,"v":0.75},{"r":9,"v":0.75},{"r":9,"v":0.75},{"r":9,"v":0.75},{"r":9,"v":0.74},
{"r":10,"v":0.78},{"r":10,"v":0.78},{"r":10,"v":0.77},{"r":10,"v":0.77},{"r":10,"v":0.77},{"r":10,"v":0.76},{"r":10,"v":0.76},{"r":10,"v":0.76},{"r":10,"v":0.76},{"r":10,"v":0.75},{"r":10,"v":0.75},{"r":10,"v":0.75},{"r":10,"v":0.75},{"r":10,"v":0.74},{"r":10,"v":0.74},{"r":10,"v":0.74},
{"r":11,"v":0.77},{"r":11,"v":0.77},{"r":11,"v":0.77},{"r":11,"v":0.77},{"r":11,"v":0.76},{"r":11,"v":0.76},{"r":11,"v":0.76},{"r":11,"v":0.76},{"r":11,"v":0.75},{"r":11,"v":0.75},{"r":11,"v":0.75},{"r":11,"v":0.74},{"r":11,"v":0.74},{"r":11,"v":0.74},{"r":11,"v":0.74},{"r":11,"v":0.74},
{"r":12,"v":0.77},{"r":12,"v":0.77},{"r":12,"v":0.76},{"r":12,"v":0.76},{"r":12,"v":0.76},{"r":12,"v":0.76},{"r":12,"v":0.75},{"r":12,"v":0.75},{"r":12,"v":0.75},{"r":12,"v":0.75},{"r":12,"v":0.75},{"r":12,"v":0.74},{"r":12,"v":0.74},{"r":12,"v":0.74},{"r":12,"v":0.74},{"r":12,"v":0.74},
{"r":13,"v":0.77},{"r":13,"v":0.77},{"r":13,"v":0.76},{"r":13,"v":0.76},{"r":13,"v":0.76},{"r":13,"v":0.76},{"r":13,"v":0.75},{"r":13,"v":0.75},{"r":13,"v":0.75},{"r":13,"v":0.75},{"r":13,"v":0.75},{"r":13,"v":0.74},{"r":13,"v":0.74},{"r":13,"v":0.74},{"r":13,"v":0.74},{"r":13,"v":0.74},
{"r":14,"v":0.77},{"r":14,"v":0.77},{"r":14,"v":0.76},{"r":14,"v":0.76},{"r":14,"v":0.76},{"r":14,"v":0.76},{"r":14,"v":0.75},{"r":14,"v":0.75},{"r":14,"v":0.75},{"r":14,"v":0.75},{"r":14,"v":0.75},{"r":14,"v":0.74},{"r":14,"v":0.74},{"r":14,"v":0.74},{"r":14,"v":0.74},{"r":14,"v":0.74}],
"a2":[{"r":0,"v":0.09},{"r":0,"v":0.09},{"r":0,"v":0.09},{"r":0,"v":0.09},{"r":0,"v":0.09},{"r":0,"v":0.09},{"r":0,"v":0.09},{"r":0,"v":0.09},{"r":0,"v":0.09},{"r":0,"v":0.09},{"r":0,"v":0.12},{"r":0,"v":0.09},{"r":0,"v":0.12},{"r":0,"v":0.12},{"r":0,"v":0.12},{"r":0,"v":0.15},
{"r":1,"v":0.12},{"r":1,"v":0.12},{"r":1,"v":0.12},{"r":1,"v":0.12},{"r":1,"v":0.12},{"r":1,"v":0.12},{"r":1,"v":0.15},{"r":1,"v":0.15},{"r":1,"v":0.12},{"r":1,"v":0.12},{"r":1,"v":0.12},{"r":1,"v":0.15},{"r":1,"v":0.15},{"r":1,"v":0.15},{"r":1,"v":0.18},{"r":1,"v":0.18},
{"r":2,"v":0.09},{"r":2,"v":0.09},{"r":2,"v":0.09},{"r":2,"v":0.12},{"r":2,"v":0.12},{"r":2,"v":0.12},{"r":2,"v":0.12},{"r":2,"v":0.15},{"r":2,"v":0.18},{"r":2,"v":0.15},{"r":2,"v":0.18},{"r":2,"v":0.21},{"r":2,"v":0.21},{"r":2,"v":0.21},{"r":2,"v":0.24},{"r":2,"v":0.24},
{"r":3,"v":0},{"r":3,"v":0.03},{"r":3,"v":0.03},{"r":3,"v":0.06},{"r":3,"v":0.09},{"r":3,"v":0.09},{"r":3,"v":0.12},{"r":3,"v":0.12},{"r":3,"v":0.15},{"r":3,"v":0.18},{"r":3,"v":0.18},{"r":3,"v":0.21},{"r":3,"v":0.24},{"r":3,"v":0.26},{"r":3,"v":0.26},{"r":3,"v":0.29},
{"r":4,"v":0.03},{"r":4,"v":0.06},{"r":4,"v":0.06},{"r":4,"v":0.09},{"r":4,"v":0.12},{"r":4,"v":0.15},{"r":4,"v":0.18},{"r":4,"v":0.18},{"r":4,"v":0.24},{"r":4,"v":0.24},{"r":4,"v":0.26},{"r":4,"v":0.29},{"r":4,"v":0.29},{"r":4,"v":0.35},{"r":4,"v":0.32},{"r":4,"v":0.35},
{"r":5,"v":0.03},{"r":5,"v":0.06},{"r":5,"v":0.09},{"r":5,"v":0.12},{"r":5,"v":0.15},{"r":5,"v":0.15},{"r":5,"v":0.18},{"r":5,"v":0.24},{"r":5,"v":0.26},{"r":5,"v":0.26},{"r":5,"v":0.32},{"r":5,"v":0.35},{"r":5,"v":0.38},{"r":5,"v":0.38},{"r":5,"v":0.38},{"r":5,"v":0.41},
{"r":6,"v":0.09},{"r":6,"v":0.12},{"r":6,"v":0.12},{"r":6,"v":0.15},{"r":6,"v":0.18},{"r":6,"v":0.21},{"r":6,"v":0.24},{"r":6,"v":0.26},{"r":6,"v":0.26},{"r":6,"v":0.29},{"r":6,"v":0.35},{"r":6,"v":0.41},{"r":6,"v":0.44},{"r":6,"v":0.47},{"r":6,"v":0.47},{"r":6,"v":0.47},
{"r":7,"v":0.06},{"r":7,"v":0.12},{"r":7,"v":0.15},{"r":7,"v":0.18},{"r":7,"v":0.21},{"r":7,"v":0.24},{"r":7,"v":0.26},{"r":7,"v":0.29},{"r":7,"v":0.32},{"r":7,"v":0.35},{"r":7,"v":0.38},{"r":7,"v":0.44},{"r":7,"v":0.5},{"r":7,"v":0.53},{"r":7,"v":0.56},{"r":7,"v":0.53},
{"r":8,"v":0.09},{"r":8,"v":0.09},{"r":8,"v":0.15},{"r":8,"v":0.18},{"r":8,"v":0.21},{"r":8,"v":0.26},{"r":8,"v":0.29},{"r":8,"v":0.32},{"r":8,"v":0.38},{"r":8,"v":0.41},{"r":8,"v":0.44},{"r":8,"v":0.47},{"r":8,"v":0.53},{"r":8,"v":0.59},{"r":8,"v":0.62},{"r":8,"v":0.62},
{"r":9,"v":0.09},{"r":9,"v":0.12},{"r":9,"v":0.18},{"r":9,"v":0.21},{"r":9,"v":0.26},{"r":9,"v":0.29},{"r":9,"v":0.35},{"r":9,"v":0.38},{"r":9,"v":0.41},{"r":9,"v":0.47},{"r":9,"v":0.5},{"r":9,"v":0.53},{"r":9,"v":0.62},{"r":9,"v":0.65},{"r":9,"v":0.71},{"r":9,"v":0.68},
{"r":10,"v":0.12},{"r":10,"v":0.15},{"r":10,"v":0.21},{"r":10,"v":0.24},{"r":10,"v":0.32},{"r":10,"v":0.35},{"r":10,"v":0.38},{"r":10,"v":0.44},{"r":10,"v":0.47},{"r":10,"v":0.53},{"r":10,"v":0.59},{"r":10,"v":0.59},{"r":10,"v":0.65},{"r":10,"v":0.74},{"r":10,"v":0.76},{"r":10,"v":0.76},
{"r":11,"v":0.18},{"r":11,"v":0.24},{"r":11,"v":0.26},{"r":11,"v":0.32},{"r":11,"v":0.38},{"r":11,"v":0.41},{"r":11,"v":0.44},{"r":11,"v":0.5},{"r":11,"v":0.53},{"r":11,"v":0.59},{"r":11,"v":0.65},{"r":11,"v":0.68},{"r":11,"v":0.74},{"r":11,"v":0.76},{"r":11,"v":0.82},{"r":11,"v":0.82},
{"r":12,"v":0.18},{"r":12,"v":0.24},{"r":12,"v":0.29},{"r":12,"v":0.32},{"r":12,"v":0.38},{"r":12,"v":0.44},{"r":12,"v":0.5},{"r":12,"v":0.53},{"r":12,"v":0.59},{"r":12,"v":0.62},{"r":12,"v":0.68},{"r":12,"v":0.74},{"r":12,"v":0.76},{"r":12,"v":0.82},{"r":12,"v":0.85},{"r":12,"v":0.88},
{"r":13,"v":0.21},{"r":13,"v":0.26},{"r":13,"v":0.32},{"r":13,"v":0.38},{"r":13,"v":0.44},{"r":13,"v":0.5},{"r":13,"v":0.53},{"r":13,"v":0.59},{"r":13,"v":0.62},{"r":13,"v":0.68},{"r":13,"v":0.71},{"r":13,"v":0.79},{"r":13,"v":0.82},{"r":13,"v":0.88},{"r":13,"v":0.91},{"r":13,"v":0.94},
{"r":14,"v":0.24},{"r":14,"v":0.29},{"r":14,"v":0.35},{"r":14,"v":0.41},{"r":14,"v":0.47},{"r":14,"v":0.53},{"r":14,"v":0.59},{"r":14,"v":0.65},{"r":14,"v":0.68},{"r":14,"v":0.74},{"r":14,"v":0.76},{"r":14,"v":0.82},{"r":14,"v":0.85},{"r":14,"v":0.94},{"r":14,"v":0.97},{"r":14,"v":1}],
"b2":[{"r":0,"v":0.1},{"r":0,"v":0.1},{"r":0,"v":0.1},{"r":0,"v":0.1},{"r":0,"v":0.09},{"r":0,"v":0.08},{"r":0,"v":0.08},{"r":0,"v":0.09},{"r":0,"v":0.08},{"r":0,"v":0.07},{"r":0,"v":0.05},{"r":0,"v":0.05},{"r":0,"v":0.04},{"r":0,"v":0.03},{"r":0,"v":0.03},{"r":0,"v":0},
{"r":1,"v":0.19},{"r":1,"v":0.2},{"r":1,"v":0.2},{"r":1,"v":0.19},{"r":1,"v":0.21},{"r":1,"v":0.2},{"r":1,"v":0.196},{"r":1,"v":0.18},{"r":1,"v":0.18},{"r":1,"v":0.17},{"r":1,"v":0.15},{"r":1,"v":0.13},{"r":1,"v":0.14},{"r":1,"v":0.14},{"r":1,"v":0.11},{"r":1,"v":0.1},
{"r":2,"v":0.29},{"r":2,"v":0.29},{"r":2,"v":0.29},{"r":2,"v":0.29},{"r":2,"v":0.28},{"r":2,"v":0.28},{"r":2,"v":0.29},{"r":2,"v":0.28},{"r":2,"v":0.28},{"r":2,"v":0.26},{"r":2,"v":0.26},{"r":2,"v":0.27},{"r":2,"v":0.23},{"r":2,"v":0.21},{"r":2,"v":0.19},{"r":2,"v":0.18},
{"r":3,"v":0.33},{"r":3,"v":0.33},{"r":3,"v":0.33},{"r":3,"v":0.34},{"r":3,"v":0.36},{"r":3,"v":0.36},{"r":3,"v":0.36},{"r":3,"v":0.33},{"r":3,"v":0.33},{"r":3,"v":0.32},{"r":3,"v":0.31},{"r":3,"v":0.3},{"r":3,"v":0.3},{"r":3,"v":0.27},{"r":3,"v":0.25},{"r":3,"v":0.24},
{"r":4,"v":0.42},{"r":4,"v":0.42},{"r":4,"v":0.43},{"r":4,"v":0.43},{"r":4,"v":0.42},{"r":4,"v":0.44},{"r":4,"v":0.43},{"r":4,"v":0.41},{"r":4,"v":0.42},{"r":4,"v":0.41},{"r":4,"v":0.38},{"r":4,"v":0.39},{"r":4,"v":0.38},{"r":4,"v":0.33},{"r":4,"v":0.3},{"r":4,"v":0.29},
{"r":5,"v":0.42},{"r":5,"v":0.42},{"r":5,"v":0.44},{"r":5,"v":0.44},{"r":5,"v":0.43},{"r":5,"v":0.42},{"r":5,"v":0.42},{"r":5,"v":0.45},{"r":5,"v":0.45},{"r":5,"v":0.45},{"r":5,"v":0.42},{"r":5,"v":0.43},{"r":5,"v":0.43},{"r":5,"v":0.42},{"r":5,"v":0.37},{"r":5,"v":0.34},
{"r":6,"v":0.51},{"r":6,"v":0.51},{"r":6,"v":0.52},{"r":6,"v":0.52},{"r":6,"v":0.51},{"r":6,"v":0.52},{"r":6,"v":0.52},{"r":6,"v":0.51},{"r":6,"v":0.49},{"r":6,"v":0.5},{"r":6,"v":0.5},{"r":6,"v":0.48},{"r":6,"v":0.48},{"r":6,"v":0.48},{"r":6,"v":0.46},{"r":6,"v":0.42},
{"r":7,"v":0.58},{"r":7,"v":0.57},{"r":7,"v":0.58},{"r":7,"v":0.58},{"r":7,"v":0.57},{"r":7,"v":0.57},{"r":7,"v":0.59},{"r":7,"v":0.57},{"r":7,"v":0.56},{"r":7,"v":0.56},{"r":7,"v":0.56},{"r":7,"v":0.55},{"r":7,"v":0.56},{"r":7,"v":0.55},{"r":7,"v":0.52},{"r":7,"v":0.5},
{"r":8,"v":0.65},{"r":8,"v":0.63},{"r":8,"v":0.63},{"r":8,"v":0.64},{"r":8,"v":0.64},{"r":8,"v":0.63},{"r":8,"v":0.62},{"r":8,"v":0.62},{"r":8,"v":0.63},{"r":8,"v":0.62},{"r":8,"v":0.61},{"r":8,"v":0.61},{"r":8,"v":0.59},{"r":8,"v":0.59},{"r":8,"v":0.58},{"r":8,"v":0.54},
{"r":9,"v":0.71},{"r":9,"v":0.71},{"r":9,"v":0.69},{"r":9,"v":0.696},{"r":9,"v":0.71},{"r":9,"v":0.71},{"r":9,"v":0.69},{"r":9,"v":0.69},{"r":9,"v":0.69},{"r":9,"v":0.69},{"r":9,"v":0.69},{"r":9,"v":0.68},{"r":9,"v":0.67},{"r":9,"v":0.67},{"r":9,"v":0.65},{"r":9,"v":0.596},
{"r":10,"v":0.74},{"r":10,"v":0.75},{"r":10,"v":0.76},{"r":10,"v":0.75},{"r":10,"v":0.76},{"r":10,"v":0.75},{"r":10,"v":0.75},{"r":10,"v":0.74},{"r":10,"v":0.74},{"r":10,"v":0.73},{"r":10,"v":0.73},{"r":10,"v":0.72},{"r":10,"v":0.72},{"r":10,"v":0.72},{"r":10,"v":0.71},{"r":10,"v":0.67},
{"r":11,"v":0.79},{"r":11,"v":0.79},{"r":11,"v":0.78},{"r":11,"v":0.79},{"r":11,"v":0.79},{"r":11,"v":0.81},{"r":11,"v":0.796},{"r":11,"v":0.8},{"r":11,"v":0.79},{"r":11,"v":0.79},{"r":11,"v":0.79},{"r":11,"v":0.76},{"r":11,"v":0.78},{"r":11,"v":0.77},{"r":11,"v":0.76},{"r":11,"v":0.696},
{"r":12,"v":0.87},{"r":12,"v":0.87},{"r":12,"v":0.87},{"r":12,"v":0.87},{"r":12,"v":0.86},{"r":12,"v":0.86},{"r":12,"v":0.86},{"r":12,"v":0.86},{"r":12,"v":0.86},{"r":12,"v":0.85},{"r":12,"v":0.84},{"r":12,"v":0.83},{"r":12,"v":0.82},{"r":12,"v":0.8},{"r":12,"v":0.79},{"r":12,"v":0.76},
{"r":13,"v":0.91},{"r":13,"v":0.91},{"r":13,"v":0.91},{"r":13,"v":0.91},{"r":13,"v":0.9},{"r":13,"v":0.91},{"r":13,"v":0.9},{"r":13,"v":0.896},{"r":13,"v":0.9},{"r":13,"v":0.896},{"r":13,"v":0.89},{"r":13,"v":0.88},{"r":13,"v":0.87},{"r":13,"v":0.86},{"r":13,"v":0.85},{"r":13,"v":0.83},
{"r":14,"v":1},{"r":14,"v":1},{"r":14,"v":1},{"r":14,"v":1},{"r":14,"v":0.99},{"r":14,"v":0.99},{"r":14,"v":0.99},{"r":14,"v":0.99},{"r":14,"v":0.98},{"r":14,"v":0.97},{"r":14,"v":0.97},{"r":14,"v":0.97},{"r":14,"v":0.94},{"r":14,"v":0.94},{"r":14,"v":0.92},{"r":14,"v":0.88}],
"c2":[{"r":0,"v":1},{"r":0,"v":1},{"r":0,"v":0.99},{"r":0,"v":0.99},{"r":0,"v":0.99},{"r":0,"v":0.99},{"r":0,"v":0.98},{"r":0,"v":0.98},{"r":0,"v":0.97},{"r":0,"v":0.97},{"r":0,"v":0.96},{"r":0,"v":0.95},{"r":0,"v":0.93},{"r":0,"v":0.91},{"r":0,"v":0.89},{"r":0,"v":0.84},
{"r":1,"v":0.98},{"r":1,"v":0.98},{"r":1,"v":0.98},{"r":1,"v":0.97},{"r":1,"v":0.97},{"r":1,"v":0.96},{"r":1,"v":0.95},{"r":1,"v":0.94},{"r":1,"v":0.94},{"r":1,"v":0.93},{"r":1,"v":0.92},{"r":1,"v":0.9},{"r":1,"v":0.89},{"r":1,"v":0.87},{"r":1,"v":0.84},{"r":1,"v":0.796},
{"r":2,"v":0.95},{"r":2,"v":0.94},{"r":2,"v":0.94},{"r":2,"v":0.93},{"r":2,"v":0.93},{"r":2,"v":0.92},{"r":2,"v":0.91},{"r":2,"v":0.9},{"r":2,"v":0.896},{"r":2,"v":0.89},{"r":2,"v":0.88},{"r":2,"v":0.87},{"r":2,"v":0.86},{"r":2,"v":0.84},{"r":2,"v":0.81},{"r":2,"v":0.77},
{"r":3,"v":0.93},{"r":3,"v":0.92},{"r":3,"v":0.92},{"r":3,"v":0.91},{"r":3,"v":0.9},{"r":3,"v":0.89},{"r":3,"v":0.89},{"r":3,"v":0.88},{"r":3,"v":0.87},{"r":3,"v":0.86},{"r":3,"v":0.86},{"r":3,"v":0.85},{"r":3,"v":0.84},{"r":3,"v":0.82},{"r":3,"v":0.8},{"r":3,"v":0.77},
{"r":4,"v":0.9},{"r":4,"v":0.89},{"r":4,"v":0.89},{"r":4,"v":0.88},{"r":4,"v":0.88},{"r":4,"v":0.88},{"r":4,"v":0.87},{"r":4,"v":0.87},{"r":4,"v":0.86},{"r":4,"v":0.85},{"r":4,"v":0.84},{"r":4,"v":0.84},{"r":4,"v":0.83},{"r":4,"v":0.81},{"r":4,"v":0.79},{"r":4,"v":0.76},
{"r":5,"v":0.89},{"r":5,"v":0.88},{"r":5,"v":0.88},{"r":5,"v":0.88},{"r":5,"v":0.88},{"r":5,"v":0.87},{"r":5,"v":0.87},{"r":5,"v":0.87},{"r":5,"v":0.85},{"r":5,"v":0.85},{"r":5,"v":0.84},{"r":5,"v":0.83},{"r":5,"v":0.82},{"r":5,"v":0.81},{"r":5,"v":0.79},{"r":5,"v":0.76},
{"r":6,"v":0.87},{"r":6,"v":0.88},{"r":6,"v":0.88},{"r":6,"v":0.88},{"r":6,"v":0.87},{"r":6,"v":0.87},{"r":6,"v":0.87},{"r":6,"v":0.86},{"r":6,"v":0.85},{"r":6,"v":0.85},{"r":6,"v":0.84},{"r":6,"v":0.83},{"r":6,"v":0.82},{"r":6,"v":0.81},{"r":6,"v":0.79},{"r":6,"v":0.75},
{"r":7,"v":0.87},{"r":7,"v":0.87},{"r":7,"v":0.87},{"r":7,"v":0.87},{"r":7,"v":0.87},{"r":7,"v":0.87},{"r":7,"v":0.86},{"r":7,"v":0.86},{"r":7,"v":0.85},{"r":7,"v":0.84},{"r":7,"v":0.84},{"r":7,"v":0.83},{"r":7,"v":0.82},{"r":7,"v":0.8},{"r":7,"v":0.79},{"r":7,"v":0.75},
{"r":8,"v":0.86},{"r":8,"v":0.86},{"r":8,"v":0.86},{"r":8,"v":0.86},{"r":8,"v":0.86},{"r":8,"v":0.86},{"r":8,"v":0.86},{"r":8,"v":0.85},{"r":8,"v":0.84},{"r":8,"v":0.83},{"r":8,"v":0.83},{"r":8,"v":0.82},{"r":8,"v":0.81},{"r":8,"v":0.796},{"r":8,"v":0.78},{"r":8,"v":0.74},
{"r":9,"v":0.86},{"r":9,"v":0.86},{"r":9,"v":0.86},{"r":9,"v":0.86},{"r":9,"v":0.85},{"r":9,"v":0.86},{"r":9,"v":0.85},{"r":9,"v":0.84},{"r":9,"v":0.84},{"r":9,"v":0.83},{"r":9,"v":0.83},{"r":9,"v":0.82},{"r":9,"v":0.81},{"r":9,"v":0.796},{"r":9,"v":0.78},{"r":9,"v":0.74},
{"r":10,"v":0.85},{"r":10,"v":0.85},{"r":10,"v":0.86},{"r":10,"v":0.86},{"r":10,"v":0.85},{"r":10,"v":0.85},{"r":10,"v":0.85},{"r":10,"v":0.84},{"r":10,"v":0.83},{"r":10,"v":0.83},{"r":10,"v":0.82},{"r":10,"v":0.82},{"r":10,"v":0.81},{"r":10,"v":0.79},{"r":10,"v":0.77},{"r":10,"v":0.74},
{"r":11,"v":0.85},{"r":11,"v":0.85},{"r":11,"v":0.85},{"r":11,"v":0.85},{"r":11,"v":0.85},{"r":11,"v":0.85},{"r":11,"v":0.85},{"r":11,"v":0.84},{"r":11,"v":0.83},{"r":11,"v":0.83},{"r":11,"v":0.82},{"r":11,"v":0.82},{"r":11,"v":0.81},{"r":11,"v":0.79},{"r":11,"v":0.77},{"r":11,"v":0.74},
{"r":12,"v":0.85},{"r":12,"v":0.85},{"r":12,"v":0.85},{"r":12,"v":0.85},{"r":12,"v":0.85},{"r":12,"v":0.85},{"r":12,"v":0.85},{"r":12,"v":0.84},{"r":12,"v":0.83},{"r":12,"v":0.83},{"r":12,"v":0.82},{"r":12,"v":0.81},{"r":12,"v":0.81},{"r":12,"v":0.79},{"r":12,"v":0.77},{"r":12,"v":0.74},
{"r":13,"v":0.84},{"r":13,"v":0.85},{"r":13,"v":0.85},{"r":13,"v":0.85},{"r":13,"v":0.85},{"r":13,"v":0.85},{"r":13,"v":0.85},{"r":13,"v":0.84},{"r":13,"v":0.83},{"r":13,"v":0.83},{"r":13,"v":0.82},{"r":13,"v":0.81},{"r":13,"v":0.81},{"r":13,"v":0.79},{"r":13,"v":0.77},{"r":13,"v":0.74}],
"a3":[{"r":0,"v":0.04},{"r":0,"v":0},{"r":0,"v":0},{"r":0,"v":0.01},{"r":0,"v":0.04},{"r":0,"v":0.04},{"r":0,"v":0.04},{"r":0,"v":0.04},{"r":0,"v":0.04},{"r":0,"v":0.04},{"r":0,"v":0.04},{"r":0,"v":0.04},{"r":0,"v":0.05},{"r":0,"v":0.03},{"r":0,"v":0.03},{"r":0,"v":0.02},
{"r":1,"v":0.1},{"r":1,"v":0.1},{"r":1,"v":0.1},{"r":1,"v":0.1},{"r":1,"v":0.1},{"r":1,"v":0.1},{"r":1,"v":0.1},{"r":1,"v":0.11},{"r":1,"v":0.11},{"r":1,"v":0.12},{"r":1,"v":0.12},{"r":1,"v":0.12},{"r":1,"v":0.12},{"r":1,"v":0.12},{"r":1,"v":0.14},{"r":1,"v":0.14},
{"r":2,"v":0.17},{"r":2,"v":0.17},{"r":2,"v":0.17},{"r":2,"v":0.17},{"r":2,"v":0.17},{"r":2,"v":0.17},{"r":2,"v":0.16},{"r":2,"v":0.17},{"r":2,"v":0.17},{"r":2,"v":0.17},{"r":2,"v":0.17},{"r":2,"v":0.18},{"r":2,"v":0.18},{"r":2,"v":0.18},{"r":2,"v":0.18},{"r":2,"v":0.19},
{"r":3,"v":0.25},{"r":3,"v":0.25},{"r":3,"v":0.24},{"r":3,"v":0.24},{"r":3,"v":0.24},{"r":3,"v":0.24},{"r":3,"v":0.24},{"r":3,"v":0.24},{"r":3,"v":0.24},{"r":3,"v":0.24},{"r":3,"v":0.24},{"r":3,"v":0.24},{"r":3,"v":0.24},{"r":3,"v":0.26},{"r":3,"v":0.26},{"r":3,"v":0.26},
{"r":4,"v":0.3},{"r":4,"v":0.3},{"r":4,"v":0.3},{"r":4,"v":0.29},{"r":4,"v":0.29},{"r":4,"v":0.29},{"r":4,"v":0.29},{"r":4,"v":0.29},{"r":4,"v":0.29},{"r":4,"v":0.29},{"r":4,"v":0.29},{"r":4,"v":0.29},{"r":4,"v":0.29},{"r":4,"v":0.29},{"r":4,"v":0.31},{"r":4,"v":0.31},
{"r":5,"v":0.39},{"r":5,"v":0.396},{"r":5,"v":0.38},{"r":5,"v":0.38},{"r":5,"v":0.37},{"r":5,"v":0.38},{"r":5,"v":0.37},{"r":5,"v":0.37},{"r":5,"v":0.37},{"r":5,"v":0.37},{"r":5,"v":0.37},{"r":5,"v":0.37},{"r":5,"v":0.37},{"r":5,"v":0.37},{"r":5,"v":0.37},{"r":5,"v":0.39},
{"r":6,"v":0.47},{"r":6,"v":0.47},{"r":6,"v":0.47},{"r":6,"v":0.47},{"r":6,"v":0.47},{"r":6,"v":0.46},{"r":6,"v":0.46},{"r":6,"v":0.46},{"r":6,"v":0.46},{"r":6,"v":0.46},{"r":6,"v":0.46},{"r":6,"v":0.46},{"r":6,"v":0.46},{"r":6,"v":0.46},{"r":6,"v":0.46},{"r":6,"v":0.46},
{"r":7,"v":0.64},{"r":7,"v":0.64},{"r":7,"v":0.64},{"r":7,"v":0.64},{"r":7,"v":0.64},{"r":7,"v":0.64},{"r":7,"v":0.62},{"r":7,"v":0.62},{"r":7,"v":0.62},{"r":7,"v":0.62},{"r":7,"v":0.62},{"r":7,"v":0.62},{"r":7,"v":0.62},{"r":7,"v":0.61},{"r":7,"v":0.61},{"r":7,"v":0.61},
{"r":8,"v":0.66},{"r":8,"v":0.67},{"r":8,"v":0.67},{"r":8,"v":0.67},{"r":8,"v":0.67},{"r":8,"v":0.67},{"r":8,"v":0.67},{"r":8,"v":0.66},{"r":8,"v":0.66},{"r":8,"v":0.66},{"r":8,"v":0.66},{"r":8,"v":0.66},{"r":8,"v":0.66},{"r":8,"v":0.66},{"r":8,"v":0.66},{"r":8,"v":0.66},
{"r":9,"v":0.73},{"r":9,"v":0.73},{"r":9,"v":0.72},{"r":9,"v":0.72},{"r":9,"v":0.73},{"r":9,"v":0.73},{"r":9,"v":0.73},{"r":9,"v":0.73},{"r":9,"v":0.72},{"r":9,"v":0.72},{"r":9,"v":0.72},{"r":9,"v":0.72},{"r":9,"v":0.72},{"r":9,"v":0.72},{"r":9,"v":0.72},{"r":9,"v":0.72},
{"r":10,"v":0.81},{"r":10,"v":0.81},{"r":10,"v":0.81},{"r":10,"v":0.81},{"r":10,"v":0.8},{"r":10,"v":0.79},{"r":10,"v":0.79},{"r":10,"v":0.8},{"r":10,"v":0.8},{"r":10,"v":0.78},{"r":10,"v":0.79},{"r":10,"v":0.79},{"r":10,"v":0.79},{"r":10,"v":0.79},{"r":10,"v":0.79},{"r":10,"v":0.79},
{"r":11,"v":0.88},{"r":11,"v":0.88},{"r":11,"v":0.88},{"r":11,"v":0.88},{"r":11,"v":0.87},{"r":11,"v":0.87},{"r":11,"v":0.87},{"r":11,"v":0.87},{"r":11,"v":0.86},{"r":11,"v":0.86},{"r":11,"v":0.84},{"r":11,"v":0.86},{"r":11,"v":0.86},{"r":11,"v":0.86},{"r":11,"v":0.85},{"r":11,"v":0.85},
{"r":12,"v":0.87},{"r":12,"v":0.87},{"r":12,"v":0.87},{"r":12,"v":0.87},{"r":12,"v":0.87},{"r":12,"v":0.87},{"r":12,"v":0.87},{"r":12,"v":0.87},{"r":12,"v":0.86},{"r":12,"v":0.86},{"r":12,"v":0.86},{"r":12,"v":0.85},{"r":12,"v":0.86},{"r":12,"v":0.86},{"r":12,"v":0.87},{"r":12,"v":0.87},
{"r":13,"v":0.92},{"r":13,"v":0.92},{"r":13,"v":0.92},{"r":13,"v":0.92},{"r":13,"v":0.92},{"r":13,"v":0.92},{"r":13,"v":0.92},{"r":13,"v":0.92},{"r":13,"v":0.92},{"r":13,"v":0.92},{"r":13,"v":0.92},{"r":13,"v":0.92},{"r":13,"v":0.92},{"r":13,"v":0.92},{"r":13,"v":0.92},{"r":13,"v":0.92},
{"r":14,"v":0.99},{"r":14,"v":0.99},{"r":14,"v":0.99},{"r":14,"v":0.99},{"r":14,"v":0.99},{"r":14,"v":0.99},{"r":14,"v":0.99},{"r":14,"v":0.99},{"r":14,"v":0.99},{"r":14,"v":1},{"r":14,"v":1},{"r":14,"v":1},{"r":14,"v":1},{"r":14,"v":0.99},{"r":14,"v":0.99},{"r":14,"v":0.99}],
"b3":[{"r":0,"v":0.02},{"r":0,"v":0.01},{"r":0,"v":0.01},{"r":0,"v":0.01},{"r":0,"v":0.02},{"r":0,"v":0.02},{"r":0,"v":0.02},{"r":0,"v":0.02},{"r":0,"v":0.02},{"r":0,"v":0.02},{"r":0,"v":0.02},{"r":0,"v":0.02},{"r":0,"v":0.02},{"r":0,"v":0.02},{"r":0,"v":0.02},{"r":0,"v":0.02},
{"r":1,"v":0.08},{"r":1,"v":0.08},{"r":1,"v":0.08},{"r":1,"v":0.08},{"r":1,"v":0.08},{"r":1,"v":0.09},{"r":1,"v":0.09},{"r":1,"v":0.08},{"r":1,"v":0.08},{"r":1,"v":0.09},{"r":1,"v":0.09},{"r":1,"v":0.08},{"r":1,"v":0.08},{"r":1,"v":0.08},{"r":1,"v":0.09},{"r":1,"v":0.09},
{"r":2,"v":0.16},{"r":2,"v":0.16},{"r":2,"v":0.16},{"r":2,"v":0.16},{"r":2,"v":0.16},{"r":2,"v":0.16},{"r":2,"v":0.16},{"r":2,"v":0.17},{"r":2,"v":0.17},{"r":2,"v":0.17},{"r":2,"v":0.17},{"r":2,"v":0.16},{"r":2,"v":0.16},{"r":2,"v":0.16},{"r":2,"v":0.15},{"r":2,"v":0.15},
{"r":3,"v":0.24},{"r":3,"v":0.24},{"r":3,"v":0.25},{"r":3,"v":0.25},{"r":3,"v":0.25},{"r":3,"v":0.25},{"r":3,"v":0.25},{"r":3,"v":0.25},{"r":3,"v":0.25},{"r":3,"v":0.26},{"r":3,"v":0.26},{"r":3,"v":0.26},{"r":3,"v":0.26},{"r":3,"v":0.25},{"r":3,"v":0.25},{"r":3,"v":0.25},
{"r":4,"v":0.33},{"r":4,"v":0.33},{"r":4,"v":0.33},{"r":4,"v":0.33},{"r":4,"v":0.33},{"r":4,"v":0.33},{"r":4,"v":0.33},{"r":4,"v":0.33},{"r":4,"v":0.33},{"r":4,"v":0.33},{"r":4,"v":0.33},{"r":4,"v":0.33},{"r":4,"v":0.33},{"r":4,"v":0.33},{"r":4,"v":0.33},{"r":4,"v":0.33},
{"r":5,"v":0.39},{"r":5,"v":0.39},{"r":5,"v":0.39},{"r":5,"v":0.39},{"r":5,"v":0.39},{"r":5,"v":0.39},{"r":5,"v":0.39},{"r":5,"v":0.39},{"r":5,"v":0.39},{"r":5,"v":0.39},{"r":5,"v":0.39},{"r":5,"v":0.39},{"r":5,"v":0.39},{"r":5,"v":0.39},{"r":5,"v":0.39},{"r":5,"v":0.39},
{"r":6,"v":0.46},{"r":6,"v":0.46},{"r":6,"v":0.45},{"r":6,"v":0.46},{"r":6,"v":0.45},{"r":6,"v":0.46},{"r":6,"v":0.46},{"r":6,"v":0.46},{"r":6,"v":0.46},{"r":6,"v":0.46},{"r":6,"v":0.46},{"r":6,"v":0.46},{"r":6,"v":0.46},{"r":6,"v":0.46},{"r":6,"v":0.45},{"r":6,"v":0.45},
{"r":7,"v":0.59},{"r":7,"v":0.59},{"r":7,"v":0.59},{"r":7,"v":0.59},{"r":7,"v":0.59},{"r":7,"v":0.59},{"r":7,"v":0.596},{"r":7,"v":0.59},{"r":7,"v":0.58},{"r":7,"v":0.58},{"r":7,"v":0.58},{"r":7,"v":0.58},{"r":7,"v":0.58},{"r":7,"v":0.58},{"r":7,"v":0.58},{"r":7,"v":0.58},
{"r":8,"v":0.63},{"r":8,"v":0.63},{"r":8,"v":0.63},{"r":8,"v":0.63},{"r":8,"v":0.63},{"r":8,"v":0.63},{"r":8,"v":0.63},{"r":8,"v":0.64},{"r":8,"v":0.64},{"r":8,"v":0.64},{"r":8,"v":0.64},{"r":8,"v":0.63},{"r":8,"v":0.63},{"r":8,"v":0.63},{"r":8,"v":0.63},{"r":8,"v":0.63},
{"r":9,"v":0.7},{"r":9,"v":0.7},{"r":9,"v":0.71},{"r":9,"v":0.71},{"r":9,"v":0.72},{"r":9,"v":0.72},{"r":9,"v":0.72},{"r":9,"v":0.72},{"r":9,"v":0.73},{"r":9,"v":0.72},{"r":9,"v":0.72},{"r":9,"v":0.72},{"r":9,"v":0.73},{"r":9,"v":0.73},{"r":9,"v":0.71},{"r":9,"v":0.71},
{"r":10,"v":0.76},{"r":10,"v":0.76},{"r":10,"v":0.76},{"r":10,"v":0.76},{"r":10,"v":0.75},{"r":10,"v":0.76},{"r":10,"v":0.76},{"r":10,"v":0.75},{"r":10,"v":0.75},{"r":10,"v":0.77},{"r":10,"v":0.77},{"r":10,"v":0.77},{"r":10,"v":0.77},{"r":10,"v":0.77},{"r":10,"v":0.77},{"r":10,"v":0.77},
{"r":11,"v":0.84},{"r":11,"v":0.84},{"r":11,"v":0.84},{"r":11,"v":0.84},{"r":11,"v":0.84},{"r":11,"v":0.84},{"r":11,"v":0.84},{"r":11,"v":0.84},{"r":11,"v":0.84},{"r":11,"v":0.84},{"r":11,"v":0.84},{"r":11,"v":0.84},{"r":11,"v":0.84},{"r":11,"v":0.84},{"r":11,"v":0.84},{"r":11,"v":0.84},
{"r":12,"v":0.87},{"r":12,"v":0.87},{"r":12,"v":0.87},{"r":12,"v":0.87},{"r":12,"v":0.87},{"r":12,"v":0.87},{"r":12,"v":0.87},{"r":12,"v":0.87},{"r":12,"v":0.87},{"r":12,"v":0.87},{"r":12,"v":0.87},{"r":12,"v":0.87},{"r":12,"v":0.87},{"r":12,"v":0.87},{"r":12,"v":0.87},{"r":12,"v":0.86},
{"r":13,"v":0.92},{"r":13,"v":0.92},{"r":13,"v":0.92},{"r":13,"v":0.92},{"r":13,"v":0.92},{"r":13,"v":0.92},{"r":13,"v":0.92},{"r":13,"v":0.92},{"r":13,"v":0.92},{"r":13,"v":0.92},{"r":13,"v":0.92},{"r":13,"v":0.92},{"r":13,"v":0.92},{"r":13,"v":0.92},{"r":13,"v":0.92},{"r":13,"v":0.92},
{"r":14,"v":1},{"r":14,"v":1},{"r":14,"v":1},{"r":14,"v":1},{"r":14,"v":1},{"r":14,"v":1},{"r":14,"v":1},{"r":14,"v":1},{"r":14,"v":1},{"r":14,"v":1},{"r":14,"v":0.99},{"r":14,"v":0.99},{"r":14,"v":0.99},{"r":14,"v":1},{"r":14,"v":0.99},{"r":14,"v":0.99}],
"c3":[{"r":0,"v":1},{"r":0,"v":1},{"r":0,"v":0.98},{"r":0,"v":0.98},{"r":0,"v":1},{"r":0,"v":0.99},{"r":0,"v":0.98},{"r":0,"v":0.97},{"r":0,"v":0.96},{"r":0,"v":0.95},{"r":0,"v":0.94},{"r":0,"v":0.92},{"r":0,"v":0.91},{"r":0,"v":0.88},{"r":0,"v":0.85},{"r":0,"v":0.82},
{"r":1,"v":1},{"r":1,"v":1},{"r":1,"v":1},{"r":1,"v":1},{"r":1,"v":1},{"r":1,"v":0.99},{"r":1,"v":0.98},{"r":1,"v":0.97},{"r":1,"v":0.96},{"r":1,"v":0.95},{"r":1,"v":0.94},{"r":1,"v":0.92},{"r":1,"v":0.896},{"r":1,"v":0.86},{"r":1,"v":0.83},{"r":1,"v":0.79},
{"r":2,"v":1},{"r":2,"v":1},{"r":2,"v":1},{"r":2,"v":1},{"r":2,"v":1},{"r":2,"v":0.99},{"r":2,"v":0.98},{"r":2,"v":0.97},{"r":2,"v":0.96},{"r":2,"v":0.95},{"r":2,"v":0.94},{"r":2,"v":0.92},{"r":2,"v":0.91},{"r":2,"v":0.87},{"r":2,"v":0.84},{"r":2,"v":0.81},
{"r":3,"v":0.99},{"r":3,"v":0.99},{"r":3,"v":0.99},{"r":3,"v":0.99},{"r":3,"v":0.99},{"r":3,"v":0.99},{"r":3,"v":0.97},{"r":3,"v":0.97},{"r":3,"v":0.95},{"r":3,"v":0.94},{"r":3,"v":0.93},{"r":3,"v":0.92},{"r":3,"v":0.88},{"r":3,"v":0.85},{"r":3,"v":0.81},{"r":3,"v":0.77},
{"r":4,"v":0.99},{"r":4,"v":0.99},{"r":4,"v":0.99},{"r":4,"v":0.99},{"r":4,"v":0.99},{"r":4,"v":0.99},{"r":4,"v":0.97},{"r":4,"v":0.97},{"r":4,"v":0.95},{"r":4,"v":0.94},{"r":4,"v":0.93},{"r":4,"v":0.91},{"r":4,"v":0.87},{"r":4,"v":0.83},{"r":4,"v":0.78},{"r":4,"v":0.74},
{"r":5,"v":0.98},{"r":5,"v":1},{"r":5,"v":1},{"r":5,"v":1},{"r":5,"v":0.99},{"r":5,"v":0.99},{"r":5,"v":0.97},{"r":5,"v":0.97},{"r":5,"v":0.95},{"r":5,"v":0.94},{"r":5,"v":0.93},{"r":5,"v":0.896},{"r":5,"v":0.86},{"r":5,"v":0.83},{"r":5,"v":0.796},{"r":5,"v":0.76},
{"r":6,"v":1},{"r":6,"v":1},{"r":6,"v":1},{"r":6,"v":1},{"r":6,"v":1},{"r":6,"v":0.98},{"r":6,"v":0.97},{"r":6,"v":0.96},{"r":6,"v":0.94},{"r":6,"v":0.93},{"r":6,"v":0.91},{"r":6,"v":0.87},{"r":6,"v":0.83},{"r":6,"v":0.796},{"r":6,"v":0.77},{"r":6,"v":0.73},
{"r":7,"v":0.97},{"r":7,"v":0.97},{"r":7,"v":0.97},{"r":7,"v":0.97},{"r":7,"v":0.97},{"r":7,"v":0.96},{"r":7,"v":0.94},{"r":7,"v":0.92},{"r":7,"v":0.91},{"r":7,"v":0.9},{"r":7,"v":0.89},{"r":7,"v":0.87},{"r":7,"v":0.83},{"r":7,"v":0.796},{"r":7,"v":0.77},{"r":7,"v":0.73},
{"r":8,"v":1},{"r":8,"v":0.99},{"r":8,"v":0.99},{"r":8,"v":0.99},{"r":8,"v":0.98},{"r":8,"v":0.97},{"r":8,"v":0.96},{"r":8,"v":0.92},{"r":8,"v":0.91},{"r":8,"v":0.9},{"r":8,"v":0.89},{"r":8,"v":0.87},{"r":8,"v":0.83},{"r":8,"v":0.796},{"r":8,"v":0.77},{"r":8,"v":0.73},
{"r":9,"v":0.97},{"r":9,"v":0.97},{"r":9,"v":0.97},{"r":9,"v":0.97},{"r":9,"v":0.97},{"r":9,"v":0.96},{"r":9,"v":0.95},{"r":9,"v":0.94},{"r":9,"v":0.92},{"r":9,"v":0.91},{"r":9,"v":0.9},{"r":9,"v":0.88},{"r":9,"v":0.85},{"r":9,"v":0.81},{"r":9,"v":0.78},{"r":9,"v":0.74},
{"r":10,"v":0.97},{"r":10,"v":0.97},{"r":10,"v":0.97},{"r":10,"v":0.97},{"r":10,"v":0.97},{"r":10,"v":0.96},{"r":10,"v":0.95},{"r":10,"v":0.94},{"r":10,"v":0.93},{"r":10,"v":0.91},{"r":10,"v":0.89},{"r":10,"v":0.87},{"r":10,"v":0.83},{"r":10,"v":0.796},{"r":10,"v":0.77},{"r":10,"v":0.73},
{"r":11,"v":0.97},{"r":11,"v":0.96},{"r":11,"v":0.96},{"r":11,"v":0.96},{"r":11,"v":0.96},{"r":11,"v":0.96},{"r":11,"v":0.95},{"r":11,"v":0.92},{"r":11,"v":0.91},{"r":11,"v":0.9},{"r":11,"v":0.89},{"r":11,"v":0.87},{"r":11,"v":0.83},{"r":11,"v":0.796},{"r":11,"v":0.77},{"r":11,"v":0.73},
{"r":12,"v":0.96},{"r":12,"v":0.96},{"r":12,"v":0.96},{"r":12,"v":0.96},{"r":12,"v":0.96},{"r":12,"v":0.95},{"r":12,"v":0.94},{"r":12,"v":0.92},{"r":12,"v":0.91},{"r":12,"v":0.9},{"r":12,"v":0.89},{"r":12,"v":0.87},{"r":12,"v":0.83},{"r":12,"v":0.796},{"r":12,"v":0.77},{"r":12,"v":0.73},
{"r":13,"v":0.96},{"r":13,"v":0.96},{"r":13,"v":0.95},{"r":13,"v":0.95},{"r":13,"v":0.95},{"r":13,"v":0.94},{"r":13,"v":0.94},{"r":13,"v":0.92},{"r":13,"v":0.91},{"r":13,"v":0.9},{"r":13,"v":0.89},{"r":13,"v":0.87},{"r":13,"v":0.83},{"r":13,"v":0.796},{"r":13,"v":0.77},{"r":13,"v":0.73}]},
"hconcat":[{"title":{"text":"Performances of dam","orient":"bottom","anchor":"middle","font":"Liberation Serif","fontSize":55,"fontWeight":"normal","color":"#222","offset":40,"dx":41},"spacing":3,"vconcat":[
{"spacing":13,"hconcat":[
{"data":{"name":"a0"},"width":584,"height":581,"transform":[{"window":[{"op":"row_number","as":"c"}],"groupby":["r"]}],"encoding":{"x":{"field":"c","type":"ordinal","axis":null},"y":{"field":"r","type":"ordinal","axis":{"title":"Hwacheon"}}},"layer":[{"mark":"rect","encoding":{"color":{"field":"v","type":"quantitative","scale":{"type":"threshold","domain":[0.2,0.4,0.6,0.7,0.8,0.9],"range":["#ffffff","#ebebeb","#dfdfdf","#c6c6c6","#9c9c9c","#505050","#161616"]},"legend":null},"stroke":{"field":"v","type":"quantitative","scale":{"type":"threshold","domain":[0.2,0.4,0.6,0.7,0.8,0.9],"range":["#ffffff","#ebebeb","#dfdfdf","#c6c6c6","#9c9c9c","#505050","#161616"]},"legend":null}}},{"mark":"text","encoding":{"text":{"field":"v","type":"quantitative","format":".2f"}}}]},
{"data":{"name":"b0"},"width":595,"height":581,"transform":[{"window":[{"op":"row_number","as":"c"}],"groupby":["r"]}],"encoding":{"x":{"field":"c","type":"ordinal","axis":null},"y":{"field":"r","type":"ordinal","axis":null}},"layer":[{"mark":"rect","encoding":{"color":{"field":"v","type":"quantitative","scale":{"type":"threshold","domain":[0.2,0.4,0.6,0.7,0.8,0.9],"range":["#ffffff","#ebebeb","#dfdfdf","#c6c6c6","#9c9c9c","#505050","#161616"]},"legend":null},"stroke":{"field":"v","type":"quantitative","scale":{"type":"threshold","domain":[0.2,0.4,0.6,0.7,0.8,0.9],"range":["#ffffff","#ebebeb","#dfdfdf","#c6c6c6","#9c9c9c","#505050","#161616"]},"legend":null}}},{"mark":"text","encoding":{"text":{"field":"v","type":"quantitative","format":".2f"}}}]},
{"data":{"name":"c0"},"width":590,"height":566,"transform":[{"window":[{"op":"row_number","as":"c"}],"groupby":["r"]}],"encoding":{"x":{"field":"c","type":"ordinal","axis":null},"y":{"field":"r","type":"ordinal","axis":null}},"layer":[{"mark":"rect","encoding":{"color":{"field":"v","type":"quantitative","scale":{"type":"threshold","domain":[0.2,0.4,0.6,0.7,0.8,0.9],"range":["#ffffff","#ebebeb","#dfdfdf","#c6c6c6","#9c9c9c","#505050","#161616"]},"legend":null},"stroke":{"field":"v","type":"quantitative","scale":{"type":"threshold","domain":[0.2,0.4,0.6,0.7,0.8,0.9],"range":["#ffffff","#ebebeb","#dfdfdf","#c6c6c6","#9c9c9c","#505050","#161616"]},"legend":null}}},{"mark":"text","encoding":{"text":{"field":"v","type":"quantitative","format":".2f"}}},
{"data":{"name":"legendRows"},"mark":{"type":"point","filled":true,"size":0,"opacity":1,"stroke":"black","strokeWidth":2},"encoding":{"x":{"value":0},"y":{"value":0},"fill":{"field":"b","type":"nominal","scale":{"domain":["0.8~1.0","0.6~0.8","0.4~0.6","0.2~0.4","0.0~0.2"],"range":["#161616","#505050","#9c9c9c","#e0e0e0","#ffffff"]},"legend":{"title":"Legend","orient":"none","legendX":1584,"legendY":41,"zindex":1,"fillColor":"white","padding":8,"symbolType":"M-1.625,-1H1.625V1H-1.625ZM1.625,-1H7.65V1H1.625H7.65V-1H1.625","symbolSize":1600,"symbolOpacity":1,"symbolStrokeColor":"black","symbolStrokeWidth":2,"labelFont":"Liberation Serif","labelFontSize":24,"labelOffset":37,"labelColor":"#333","titleFont":"Liberation Serif","titleFontSize":23,"titleFontWeight":"normal","titleColor":"#222","titleAnchor":"middle","titlePadding":12,"rowPadding":-5}}}}]}]},
{"spacing":20,"hconcat":[
{"data":{"name":"a1"},"width":584,"height":583,"transform":[{"window":[{"op":"row_number","as":"c"}],"groupby":["r"]}],"encoding":{"x":{"field":"c","type":"ordinal","axis":null},"y":{"field":"r","type":"ordinal","axis":{"title":"Chuncheon"}}},"layer":[{"mark":"rect","encoding":{"color":{"field":"v","type":"quantitative","scale":{"type":"threshold","domain":[0.2,0.4,0.6,0.7,0.8,0.9],"range":["#ffffff","#ebebeb","#dfdfdf","#c6c6c6","#9c9c9c","#505050","#161616"]},"legend":null},"stroke":{"field":"v","type":"quantitative","scale":{"type":"threshold","domain":[0.2,0.4,0.6,0.7,0.8,0.9],"range":["#ffffff","#ebebeb","#dfdfdf","#c6c6c6","#9c9c9c","#505050","#161616"]},"legend":null}}},{"mark":"text","encoding":{"text":{"field":"v","type":"quantitative","format":".2f"}}}]},
{"data":{"name":"b1"},"width":584,"height":583,"transform":[{"window":[{"op":"row_number","as":"c"}],"groupby":["r"]}],"encoding":{"x":{"field":"c","type":"ordinal","axis":null},"y":{"field":"r","type":"ordinal","axis":null}},"layer":[{"mark":"rect","encoding":{"color":{"field":"v","type":"quantitative","scale":{"type":"threshold","domain":[0.2,0.4,0.6,0.7,0.8,0.9],"range":["#ffffff","#ebebeb","#dfdfdf","#c6c6c6","#9c9c9c","#505050","#161616"]},"legend":null},"stroke":{"field":"v","type":"quantitative","scale":{"type":"threshold","domain":[0.2,0.4,0.6,0.7,0.8,0.9],"range":["#ffffff","#ebebeb","#dfdfdf","#c6c6c6","#9c9c9c","#505050","#161616"]},"legend":null}}},{"mark":"text","encoding":{"text":{"field":"v","type":"quantitative","format":".2f"}}}]},
{"data":{"name":"c1"},"width":582,"height":583,"transform":[{"window":[{"op":"row_number","as":"c"}],"groupby":["r"]}],"encoding":{"x":{"field":"c","type":"ordinal","axis":null},"y":{"field":"r","type":"ordinal","axis":null}},"layer":[{"mark":"rect","encoding":{"color":{"field":"v","type":"quantitative","scale":{"type":"threshold","domain":[0.2,0.4,0.6,0.7,0.8,0.9],"range":["#ffffff","#ebebeb","#dfdfdf","#c6c6c6","#9c9c9c","#505050","#161616"]},"legend":null},"stroke":{"field":"v","type":"quantitative","scale":{"type":"threshold","domain":[0.2,0.4,0.6,0.7,0.8,0.9],"range":["#ffffff","#ebebeb","#dfdfdf","#c6c6c6","#9c9c9c","#505050","#161616"]},"legend":null}}},{"mark":"text","encoding":{"text":{"field":"v","type":"quantitative","format":".2f"}}}]}]},
{"spacing":20,"hconcat":[
{"data":{"name":"a2"},"width":584,"height":581,"transform":[{"window":[{"op":"row_number","as":"c"}],"groupby":["r"]}],"encoding":{"x":{"field":"c","type":"ordinal","axis":null},"y":{"field":"r","type":"ordinal","axis":{"title":"Uiam"}}},"layer":[{"mark":"rect","encoding":{"color":{"field":"v","type":"quantitative","scale":{"type":"threshold","domain":[0.2,0.4,0.6,0.7,0.8,0.9],"range":["#ffffff","#ebebeb","#dfdfdf","#c6c6c6","#9c9c9c","#505050","#161616"]},"legend":null},"stroke":{"field":"v","type":"quantitative","scale":{"type":"threshold","domain":[0.2,0.4,0.6,0.7,0.8,0.9],"range":["#ffffff","#ebebeb","#dfdfdf","#c6c6c6","#9c9c9c","#505050","#161616"]},"legend":null}}},{"mark":"text","encoding":{"text":{"field":"v","type":"quantitative","format":".2f"}}}]},
{"data":{"name":"b2"},"width":584,"height":581,"transform":[{"window":[{"op":"row_number","as":"c"}],"groupby":["r"]}],"encoding":{"x":{"field":"c","type":"ordinal","axis":null},"y":{"field":"r","type":"ordinal","axis":null}},"layer":[{"mark":"rect","encoding":{"color":{"field":"v","type":"quantitative","scale":{"type":"threshold","domain":[0.2,0.4,0.6,0.7,0.8,0.9],"range":["#ffffff","#ebebeb","#dfdfdf","#c6c6c6","#9c9c9c","#505050","#161616"]},"legend":null},"stroke":{"field":"v","type":"quantitative","scale":{"type":"threshold","domain":[0.2,0.4,0.6,0.7,0.8,0.9],"range":["#ffffff","#ebebeb","#dfdfdf","#c6c6c6","#9c9c9c","#505050","#161616"]},"legend":null}}},{"mark":"text","encoding":{"text":{"field":"v","type":"quantitative","format":".2f"}}}]},
{"data":{"name":"c2"},"width":582,"height":581,"transform":[{"window":[{"op":"row_number","as":"c"}],"groupby":["r"]}],"encoding":{"x":{"field":"c","type":"ordinal","axis":null},"y":{"field":"r","type":"ordinal","axis":null}},"layer":[{"mark":"rect","encoding":{"color":{"field":"v","type":"quantitative","scale":{"type":"threshold","domain":[0.2,0.4,0.6,0.7,0.8,0.9],"range":["#ffffff","#ebebeb","#dfdfdf","#c6c6c6","#9c9c9c","#505050","#161616"]},"legend":null},"stroke":{"field":"v","type":"quantitative","scale":{"type":"threshold","domain":[0.2,0.4,0.6,0.7,0.8,0.9],"range":["#ffffff","#ebebeb","#dfdfdf","#c6c6c6","#9c9c9c","#505050","#161616"]},"legend":null}}},{"mark":"text","encoding":{"text":{"field":"v","type":"quantitative","format":".2f"}}}]}]},
{"spacing":20,"hconcat":[
{"data":{"name":"a3"},"width":584,"height":582,"transform":[{"window":[{"op":"row_number","as":"c"}],"groupby":["r"]}],"encoding":{"x":{"field":"c","type":"ordinal","axis":{"title":"(a) Power generation performance"}},"y":{"field":"r","type":"ordinal","axis":{"title":"Cheongpyung"}}},"layer":[{"mark":"rect","encoding":{"color":{"field":"v","type":"quantitative","scale":{"type":"threshold","domain":[0.2,0.4,0.6,0.7,0.8,0.9],"range":["#ffffff","#ebebeb","#dfdfdf","#c6c6c6","#9c9c9c","#505050","#161616"]},"legend":null},"stroke":{"field":"v","type":"quantitative","scale":{"type":"threshold","domain":[0.2,0.4,0.6,0.7,0.8,0.9],"range":["#ffffff","#ebebeb","#dfdfdf","#c6c6c6","#9c9c9c","#505050","#161616"]},"legend":null}}},{"mark":"text","encoding":{"text":{"field":"v","type":"quantitative","format":".2f"}}}]},
{"data":{"name":"b3"},"width":584,"height":582,"transform":[{"window":[{"op":"row_number","as":"c"}],"groupby":["r"]}],"encoding":{"x":{"field":"c","type":"ordinal","axis":{"title":"(b) Flood performance"}},"y":{"field":"r","type":"ordinal","axis":null}},"layer":[{"mark":"rect","encoding":{"color":{"field":"v","type":"quantitative","scale":{"type":"threshold","domain":[0.2,0.4,0.6,0.7,0.8,0.9],"range":["#ffffff","#ebebeb","#dfdfdf","#c6c6c6","#9c9c9c","#505050","#161616"]},"legend":null},"stroke":{"field":"v","type":"quantitative","scale":{"type":"threshold","domain":[0.2,0.4,0.6,0.7,0.8,0.9],"range":["#ffffff","#ebebeb","#dfdfdf","#c6c6c6","#9c9c9c","#505050","#161616"]},"legend":null}}},{"mark":"text","encoding":{"text":{"field":"v","type":"quantitative","format":".2f"}}}]},
{"data":{"name":"c3"},"width":582,"height":582,"transform":[{"window":[{"op":"row_number","as":"c"}],"groupby":["r"]}],"encoding":{"x":{"field":"c","type":"ordinal","axis":{"title":"(c) Drought performance"}},"y":{"field":"r","type":"ordinal","axis":null}},"layer":[{"mark":"rect","encoding":{"color":{"field":"v","type":"quantitative","scale":{"type":"threshold","domain":[0.2,0.4,0.6,0.7,0.8,0.9],"range":["#ffffff","#ebebeb","#dfdfdf","#c6c6c6","#9c9c9c","#505050","#161616"]},"legend":null},"stroke":{"field":"v","type":"quantitative","scale":{"type":"threshold","domain":[0.2,0.4,0.6,0.7,0.8,0.9],"range":["#ffffff","#ebebeb","#dfdfdf","#c6c6c6","#9c9c9c","#505050","#161616"]},"legend":null}}},{"mark":"text","encoding":{"text":{"field":"v","type":"quantitative","format":".2f"}}}]}]}
]}]}
